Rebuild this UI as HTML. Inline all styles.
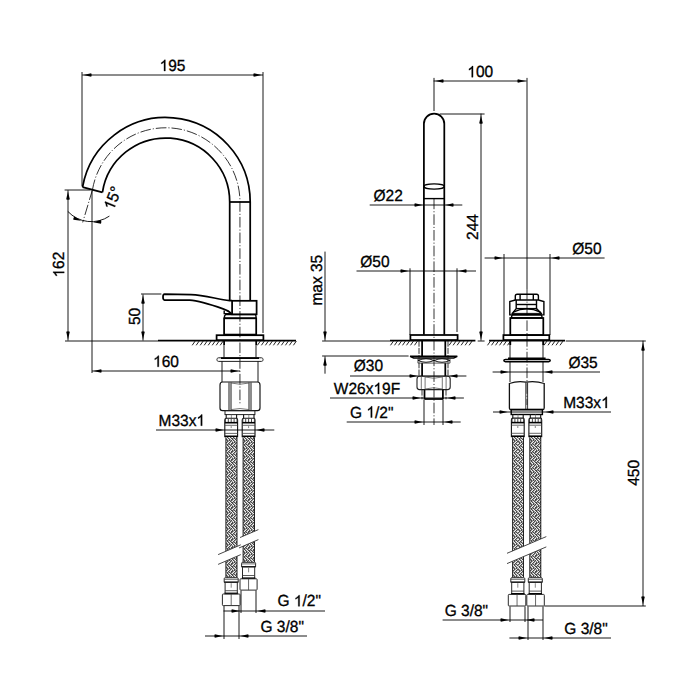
<!DOCTYPE html>
<html><head><meta charset="utf-8"><style>
html,body{margin:0;padding:0;background:#fff;width:700px;height:700px;overflow:hidden}
svg{display:block}
text{font-family:"Liberation Sans",sans-serif;fill:#000;stroke:#000;stroke-width:0.3px;text-rendering:geometricPrecision;font-kerning:none}
</style></head><body>
<svg width="700" height="700" viewBox="0 0 700 700">
<defs>

</defs>
<rect width="700" height="700" fill="#fff"/>
<line x1="82.00" y1="72.00" x2="82.00" y2="186.00" stroke="#000" stroke-width="0.9" fill="none"/>
<line x1="263.00" y1="72.00" x2="263.00" y2="333.00" stroke="#000" stroke-width="0.9" fill="none"/>
<line x1="82.20" y1="75.00" x2="263.00" y2="75.00" stroke="#000" stroke-width="0.9" fill="none"/>
<path d="M83.40,75.00 L91.20,73.20 Q92.20,75.00 91.20,76.80 Z" fill="#000"/>
<path d="M261.60,75.00 L253.80,76.80 Q252.80,75.00 253.80,73.20 Z" fill="#000"/>
<g transform="translate(172.50,71.00) scale(1,1.04)"><text x="-12.93" y="0" font-size="15.5"> 95</text><path transform="translate(-12.93,0) scale(0.00757,-0.00728)" d="M763,0 L583,0 L583,1147 C540,1106 483,1065 413,1024 C343,983 280,952 224,931 L224,1105 C325,1152 413,1209 488,1276 C563,1343 616,1409 647,1472 L763,1472 Z" fill="#000" stroke="#000" stroke-width="39.6"/></g>
<path d="M82.54,187.04 A84.5,84.5 0 0 1 250.20,202.00 L250.20,300.6" stroke="#000" stroke-width="1.75" fill="none"/>
<path d="M102.44,192.32 A64.0,64.0 0 0 1 229.70,202.00 L229.70,300.6" stroke="#000" stroke-width="1.75" fill="none"/>
<path d="M82.54,187.04 L102.44,192.32" stroke="#000" stroke-width="1.75" fill="none"/>
<line x1="229.70" y1="202.00" x2="250.20" y2="202.00" stroke="#000" stroke-width="1.75" fill="none"/>
<path d="M92.47,189.75 A74.25,74.25 0 0 1 239.95,202.00 L239.95,405" stroke="#000" stroke-width="0.8" fill="none" stroke-dasharray="10.6 2 1.1 2"/>
<path d="M92.47,189.75 L82.7,222.4" stroke="#000" stroke-width="0.8" fill="none" stroke-dasharray="10.6 2 1.1 2"/>
<line x1="64.60" y1="190.00" x2="90.50" y2="190.00" stroke="#000" stroke-width="0.9" fill="none"/>
<line x1="92.00" y1="190.50" x2="92.00" y2="373.00" stroke="#000" stroke-width="0.9" fill="none"/>
<path d="M67.8,211.4 A32.1,32.1 0 0 0 109.4,216.1" stroke="#000" stroke-width="0.9" fill="none"/>
<path d="M81.28,220.74 L73.32,219.86 Q72.97,217.83 74.51,216.46 Z" fill="#000"/>
<path d="M93.10,222.23 L100.80,220.04 Q101.89,221.79 100.98,223.64 Z" fill="#000"/>
<g transform="translate(113.30,211.00) rotate(-68) scale(1,1.04)"><text x="0.00" y="0" font-size="15.5"> 5°</text><path transform="translate(0.00,0) scale(0.00757,-0.00728)" d="M763,0 L583,0 L583,1147 C540,1106 483,1065 413,1024 C343,983 280,952 224,931 L224,1105 C325,1152 413,1209 488,1276 C563,1343 616,1409 647,1472 L763,1472 Z" fill="#000" stroke="#000" stroke-width="39.6"/></g>
<line x1="68.00" y1="190.20" x2="68.00" y2="340.60" stroke="#000" stroke-width="0.9" fill="none"/>
<path d="M68.00,191.40 L69.80,199.20 Q68.00,200.20 66.20,199.20 Z" fill="#000"/>
<path d="M68.00,339.60 L66.20,331.80 Q68.00,330.80 69.80,331.80 Z" fill="#000"/>
<g transform="translate(64.20,277.50) rotate(-90) scale(1,1.04)"><text x="0.00" y="0" font-size="15.5"> 62</text><path transform="translate(0.00,0) scale(0.00757,-0.00728)" d="M763,0 L583,0 L583,1147 C540,1106 483,1065 413,1024 C343,983 280,952 224,931 L224,1105 C325,1152 413,1209 488,1276 C563,1343 616,1409 647,1472 L763,1472 Z" fill="#000" stroke="#000" stroke-width="39.6"/></g>
<line x1="65.00" y1="341.00" x2="158.00" y2="341.00" stroke="#000" stroke-width="0.9" fill="none"/>
<line x1="158.00" y1="340.60" x2="296.00" y2="340.60" stroke="#000" stroke-width="1.75" fill="none"/>
<line x1="192.20" y1="345.30" x2="195.20" y2="341.00" stroke="#222" stroke-width="1.0"/>
<line x1="196.20" y1="345.30" x2="199.20" y2="341.00" stroke="#222" stroke-width="1.0"/>
<line x1="200.20" y1="345.30" x2="203.20" y2="341.00" stroke="#222" stroke-width="1.0"/>
<line x1="204.20" y1="345.30" x2="207.20" y2="341.00" stroke="#222" stroke-width="1.0"/>
<line x1="208.20" y1="345.30" x2="211.20" y2="341.00" stroke="#222" stroke-width="1.0"/>
<line x1="212.20" y1="345.30" x2="215.20" y2="341.00" stroke="#222" stroke-width="1.0"/>
<line x1="216.20" y1="345.30" x2="219.20" y2="341.00" stroke="#222" stroke-width="1.0"/>
<line x1="220.20" y1="345.30" x2="223.20" y2="341.00" stroke="#222" stroke-width="1.0"/>
<line x1="257.40" y1="345.30" x2="260.40" y2="341.00" stroke="#222" stroke-width="1.0"/>
<line x1="261.40" y1="345.30" x2="264.40" y2="341.00" stroke="#222" stroke-width="1.0"/>
<line x1="265.40" y1="345.30" x2="268.40" y2="341.00" stroke="#222" stroke-width="1.0"/>
<line x1="269.40" y1="345.30" x2="272.40" y2="341.00" stroke="#222" stroke-width="1.0"/>
<line x1="273.40" y1="345.30" x2="276.40" y2="341.00" stroke="#222" stroke-width="1.0"/>
<line x1="277.40" y1="345.30" x2="280.40" y2="341.00" stroke="#222" stroke-width="1.0"/>
<line x1="281.40" y1="345.30" x2="284.40" y2="341.00" stroke="#222" stroke-width="1.0"/>
<line x1="285.40" y1="345.30" x2="288.40" y2="341.00" stroke="#222" stroke-width="1.0"/>
<line x1="289.40" y1="345.30" x2="292.40" y2="341.00" stroke="#222" stroke-width="1.0"/>
<line x1="293.40" y1="345.30" x2="296.40" y2="341.00" stroke="#222" stroke-width="1.0"/>
<line x1="141.00" y1="294.00" x2="161.40" y2="294.00" stroke="#000" stroke-width="0.9" fill="none"/>
<line x1="143.00" y1="294.40" x2="143.00" y2="340.60" stroke="#000" stroke-width="0.9" fill="none"/>
<path d="M143.00,295.40 L144.80,303.20 Q143.00,304.20 141.20,303.20 Z" fill="#000"/>
<path d="M143.00,339.60 L141.20,331.80 Q143.00,330.80 144.80,331.80 Z" fill="#000"/>
<g transform="translate(140.30,325.00) rotate(-90) scale(1,1.04)"><text x="0.00" y="0" font-size="15.5">50</text></g>
<line x1="92.00" y1="371.00" x2="240.00" y2="371.00" stroke="#000" stroke-width="0.9" fill="none"/>
<path d="M93.40,371.00 L101.20,369.20 Q102.20,371.00 101.20,372.80 Z" fill="#000"/>
<path d="M238.60,371.00 L230.80,372.80 Q229.80,371.00 230.80,369.20 Z" fill="#000"/>
<g transform="translate(166.00,366.80) scale(1,1.04)"><text x="-12.93" y="0" font-size="15.5"> 60</text><path transform="translate(-12.93,0) scale(0.00757,-0.00728)" d="M763,0 L583,0 L583,1147 C540,1106 483,1065 413,1024 C343,983 280,952 224,931 L224,1105 C325,1152 413,1209 488,1276 C563,1343 616,1409 647,1472 L763,1472 Z" fill="#000" stroke="#000" stroke-width="39.6"/></g>
<path d="M164.5,294.2 L191,294.6 C205,295 218,299.5 229.5,300.6 L232,300.6 M164.5,300 L189.7,300.2 C200,300.8 212,305 223.1,308.9 C227,310.3 229.5,311.5 231.2,313.6 M164.5,294.2 C162.5,294.2 162.5,300 164.5,300" stroke="#000" stroke-width="1.75" fill="none"/>
<path d="M224.2,310.5 L224.2,313.6 L232,313.6" stroke="#000" stroke-width="1.4" fill="none"/>
<rect x="232.10" y="300.80" width="24.50" height="13.50" rx="0" stroke="#000" stroke-width="1.75" fill="none"/>
<path d="M225.5,314.6 L255.5,314.6 L256,316 L256,318.3 L224.5,318.3 L224.5,316 Z" stroke="#000" stroke-width="1.4" fill="none"/>
<rect x="224.10" y="318.30" width="32.10" height="16.30" rx="0" stroke="#000" stroke-width="1.75" fill="none"/>
<rect x="216.60" y="335.20" width="46.80" height="5.00" rx="0" stroke="#000" stroke-width="1.75" fill="none"/>
<line x1="224.10" y1="340.60" x2="224.10" y2="345.00" stroke="#000" stroke-width="1.75" fill="none"/>
<line x1="256.20" y1="340.60" x2="256.20" y2="345.00" stroke="#000" stroke-width="1.75" fill="none"/>
<line x1="224.00" y1="345.00" x2="224.00" y2="357.50" stroke="#000" stroke-width="0.9" fill="none"/>
<line x1="256.00" y1="345.00" x2="256.00" y2="357.50" stroke="#000" stroke-width="0.9" fill="none"/>
<path d="M218.5,357.8 L261.5,357.8 C263.6,357.8 263.6,361.4 261.5,361.4 L218.5,361.4 C216.4,361.4 216.4,357.8 218.5,357.8 Z" stroke="#222" stroke-width="1.0" fill="none"/>
<line x1="221.00" y1="358.20" x2="259.00" y2="358.20" stroke="#000" stroke-width="1.8"/>
<line x1="222.00" y1="361.40" x2="222.00" y2="382.00" stroke="#000" stroke-width="0.9" fill="none"/>
<line x1="258.00" y1="361.40" x2="258.00" y2="382.00" stroke="#000" stroke-width="0.9" fill="none"/>
<path d="M222.5,382 L257.5,382 Q260,382 260,385 L260,408 Q260,410.6 257.5,410.6 L222.5,410.6 Q220,410.6 220,408 L220,385 Q220,382 222.5,382 Z" stroke="#111" stroke-width="1.15" fill="none"/>
<line x1="229.00" y1="382.50" x2="229.00" y2="410.00" stroke="#000" stroke-width="0.9" fill="none"/>
<line x1="231.00" y1="382.50" x2="231.00" y2="410.00" stroke="#000" stroke-width="0.9" fill="none"/>
<line x1="249.00" y1="382.50" x2="249.00" y2="410.00" stroke="#000" stroke-width="0.9" fill="none"/>
<line x1="251.00" y1="382.50" x2="251.00" y2="410.00" stroke="#000" stroke-width="0.9" fill="none"/>
<path d="M231,383 Q240,385.5 249.1,383 M231,409.6 Q240,407.5 249.1,409.6" stroke="#555" stroke-width="0.8" fill="none"/>
<rect x="225.00" y="410.60" width="29.90" height="4.00" rx="0" stroke="#222" stroke-width="1.0" fill="none"/>
<line x1="226.20" y1="414.40" x2="226.20" y2="418.20" stroke="#111" stroke-width="1.1" fill="none"/>
<line x1="236.60" y1="414.40" x2="236.60" y2="418.20" stroke="#111" stroke-width="1.1" fill="none"/>
<line x1="231.40" y1="414.60" x2="231.40" y2="418.20" stroke="#666" stroke-width="0.7"/>
<path d="M226.20,418.20 L236.60,418.20 Q237.60,418.60 237.60,420.10 L237.60,437.30 M226.20,418.20 Q224.80,418.60 224.80,420.10 L224.80,437.30" stroke="#111" stroke-width="1.1" fill="none"/>
<line x1="225.40" y1="418.80" x2="225.40" y2="422.20" stroke="#333" stroke-width="0.9"/>
<line x1="228.30" y1="418.80" x2="228.30" y2="422.20" stroke="#333" stroke-width="0.9"/>
<line x1="231.20" y1="418.80" x2="231.20" y2="422.20" stroke="#333" stroke-width="0.9"/>
<line x1="234.10" y1="418.80" x2="234.10" y2="422.20" stroke="#333" stroke-width="0.9"/>
<line x1="237.00" y1="418.80" x2="237.00" y2="422.20" stroke="#333" stroke-width="0.9"/>
<line x1="224.80" y1="422.70" x2="237.60" y2="422.70" stroke="#000" stroke-width="1.6"/>
<line x1="224.80" y1="425.30" x2="237.60" y2="425.30" stroke="#444" stroke-width="0.8"/>
<line x1="224.80" y1="433.40" x2="237.60" y2="433.40" stroke="#444" stroke-width="0.8"/>
<line x1="224.80" y1="436.30" x2="237.60" y2="436.30" stroke="#000" stroke-width="1.6"/>
<line x1="231.20" y1="426.10" x2="231.20" y2="428.10" stroke="#555" stroke-width="0.7"/>
<line x1="243.60" y1="414.40" x2="243.60" y2="418.20" stroke="#111" stroke-width="1.1" fill="none"/>
<line x1="254.00" y1="414.40" x2="254.00" y2="418.20" stroke="#111" stroke-width="1.1" fill="none"/>
<line x1="248.80" y1="414.60" x2="248.80" y2="418.20" stroke="#666" stroke-width="0.7"/>
<path d="M243.60,418.20 L254.00,418.20 Q255.00,418.60 255.00,420.10 L255.00,437.30 M243.60,418.20 Q242.20,418.60 242.20,420.10 L242.20,437.30" stroke="#111" stroke-width="1.1" fill="none"/>
<line x1="242.80" y1="418.80" x2="242.80" y2="422.20" stroke="#333" stroke-width="0.9"/>
<line x1="245.70" y1="418.80" x2="245.70" y2="422.20" stroke="#333" stroke-width="0.9"/>
<line x1="248.60" y1="418.80" x2="248.60" y2="422.20" stroke="#333" stroke-width="0.9"/>
<line x1="251.50" y1="418.80" x2="251.50" y2="422.20" stroke="#333" stroke-width="0.9"/>
<line x1="254.40" y1="418.80" x2="254.40" y2="422.20" stroke="#333" stroke-width="0.9"/>
<line x1="242.20" y1="422.70" x2="255.00" y2="422.70" stroke="#000" stroke-width="1.6"/>
<line x1="242.20" y1="425.30" x2="255.00" y2="425.30" stroke="#444" stroke-width="0.8"/>
<line x1="242.20" y1="433.40" x2="255.00" y2="433.40" stroke="#444" stroke-width="0.8"/>
<line x1="242.20" y1="436.30" x2="255.00" y2="436.30" stroke="#000" stroke-width="1.6"/>
<line x1="248.60" y1="426.10" x2="248.60" y2="428.10" stroke="#555" stroke-width="0.7"/>
<rect x="225.90" y="437.30" width="11.10" height="140.40" fill="#a0a0a0"/>
<path d="M226,437h1v1h-1zM229,437h1v1h-1zM232,437h1v1h-1zM235,437h1v1h-1zM227,438h1v1h-1zM230,438h1v1h-1zM228,439h1v1h-1zM231,439h1v1h-1zM234,439h1v1h-1zM232,440h1v1h-1zM235,440h1v1h-1zM226,441h1v1h-1zM229,441h1v1h-1zM233,441h1v1h-1zM236,441h1v1h-1zM228,442h1v1h-1zM231,442h1v1h-1zM227,443h1v1h-1zM230,443h1v1h-1zM234,443h1v1h-1zM233,444h1v1h-1zM236,444h1v1h-1zM226,445h1v1h-1zM229,445h1v1h-1zM232,445h1v1h-1zM235,445h1v1h-1zM227,446h1v1h-1zM230,446h1v1h-1zM228,447h1v1h-1zM231,447h1v1h-1zM234,447h1v1h-1zM232,448h1v1h-1zM235,448h1v1h-1zM226,449h1v1h-1zM229,449h1v1h-1zM233,449h1v1h-1zM236,449h1v1h-1zM228,450h1v1h-1zM231,450h1v1h-1zM227,451h1v1h-1zM230,451h1v1h-1zM234,451h1v1h-1zM233,452h1v1h-1zM236,452h1v1h-1zM226,453h1v1h-1zM229,453h1v1h-1zM232,453h1v1h-1zM235,453h1v1h-1zM227,454h1v1h-1zM230,454h1v1h-1zM228,455h1v1h-1zM231,455h1v1h-1zM234,455h1v1h-1zM232,456h1v1h-1zM235,456h1v1h-1zM226,457h1v1h-1zM229,457h1v1h-1zM233,457h1v1h-1zM236,457h1v1h-1zM228,458h1v1h-1zM231,458h1v1h-1zM227,459h1v1h-1zM230,459h1v1h-1zM234,459h1v1h-1zM233,460h1v1h-1zM236,460h1v1h-1zM226,461h1v1h-1zM229,461h1v1h-1zM232,461h1v1h-1zM235,461h1v1h-1zM227,462h1v1h-1zM230,462h1v1h-1zM228,463h1v1h-1zM231,463h1v1h-1zM234,463h1v1h-1zM232,464h1v1h-1zM235,464h1v1h-1zM226,465h1v1h-1zM229,465h1v1h-1zM233,465h1v1h-1zM236,465h1v1h-1zM228,466h1v1h-1zM231,466h1v1h-1zM227,467h1v1h-1zM230,467h1v1h-1zM234,467h1v1h-1zM233,468h1v1h-1zM236,468h1v1h-1zM226,469h1v1h-1zM229,469h1v1h-1zM232,469h1v1h-1zM235,469h1v1h-1zM227,470h1v1h-1zM230,470h1v1h-1zM228,471h1v1h-1zM231,471h1v1h-1zM234,471h1v1h-1zM232,472h1v1h-1zM235,472h1v1h-1zM226,473h1v1h-1zM229,473h1v1h-1zM233,473h1v1h-1zM236,473h1v1h-1zM228,474h1v1h-1zM231,474h1v1h-1zM227,475h1v1h-1zM230,475h1v1h-1zM234,475h1v1h-1zM233,476h1v1h-1zM236,476h1v1h-1zM226,477h1v1h-1zM229,477h1v1h-1zM232,477h1v1h-1zM235,477h1v1h-1zM227,478h1v1h-1zM230,478h1v1h-1zM228,479h1v1h-1zM231,479h1v1h-1zM234,479h1v1h-1zM232,480h1v1h-1zM235,480h1v1h-1zM226,481h1v1h-1zM229,481h1v1h-1zM233,481h1v1h-1zM236,481h1v1h-1zM228,482h1v1h-1zM231,482h1v1h-1zM227,483h1v1h-1zM230,483h1v1h-1zM234,483h1v1h-1zM233,484h1v1h-1zM236,484h1v1h-1zM226,485h1v1h-1zM229,485h1v1h-1zM232,485h1v1h-1zM235,485h1v1h-1zM227,486h1v1h-1zM230,486h1v1h-1zM228,487h1v1h-1zM231,487h1v1h-1zM234,487h1v1h-1zM232,488h1v1h-1zM235,488h1v1h-1zM226,489h1v1h-1zM229,489h1v1h-1zM233,489h1v1h-1zM236,489h1v1h-1zM228,490h1v1h-1zM231,490h1v1h-1zM227,491h1v1h-1zM230,491h1v1h-1zM234,491h1v1h-1zM233,492h1v1h-1zM236,492h1v1h-1zM226,493h1v1h-1zM229,493h1v1h-1zM232,493h1v1h-1zM235,493h1v1h-1zM227,494h1v1h-1zM230,494h1v1h-1zM228,495h1v1h-1zM231,495h1v1h-1zM234,495h1v1h-1zM232,496h1v1h-1zM235,496h1v1h-1zM226,497h1v1h-1zM229,497h1v1h-1zM233,497h1v1h-1zM236,497h1v1h-1zM228,498h1v1h-1zM231,498h1v1h-1zM227,499h1v1h-1zM230,499h1v1h-1zM234,499h1v1h-1zM233,500h1v1h-1zM236,500h1v1h-1zM226,501h1v1h-1zM229,501h1v1h-1zM232,501h1v1h-1zM235,501h1v1h-1zM227,502h1v1h-1zM230,502h1v1h-1zM228,503h1v1h-1zM231,503h1v1h-1zM234,503h1v1h-1zM232,504h1v1h-1zM235,504h1v1h-1zM226,505h1v1h-1zM229,505h1v1h-1zM233,505h1v1h-1zM236,505h1v1h-1zM228,506h1v1h-1zM231,506h1v1h-1zM227,507h1v1h-1zM230,507h1v1h-1zM234,507h1v1h-1zM233,508h1v1h-1zM236,508h1v1h-1zM226,509h1v1h-1zM229,509h1v1h-1zM232,509h1v1h-1zM235,509h1v1h-1zM227,510h1v1h-1zM230,510h1v1h-1zM228,511h1v1h-1zM231,511h1v1h-1zM234,511h1v1h-1zM232,512h1v1h-1zM235,512h1v1h-1zM226,513h1v1h-1zM229,513h1v1h-1zM233,513h1v1h-1zM236,513h1v1h-1zM228,514h1v1h-1zM231,514h1v1h-1zM227,515h1v1h-1zM230,515h1v1h-1zM234,515h1v1h-1zM233,516h1v1h-1zM236,516h1v1h-1zM226,517h1v1h-1zM229,517h1v1h-1zM232,517h1v1h-1zM235,517h1v1h-1zM227,518h1v1h-1zM230,518h1v1h-1zM228,519h1v1h-1zM231,519h1v1h-1zM234,519h1v1h-1zM232,520h1v1h-1zM235,520h1v1h-1zM226,521h1v1h-1zM229,521h1v1h-1zM233,521h1v1h-1zM236,521h1v1h-1zM228,522h1v1h-1zM231,522h1v1h-1zM227,523h1v1h-1zM230,523h1v1h-1zM234,523h1v1h-1zM233,524h1v1h-1zM236,524h1v1h-1zM226,525h1v1h-1zM229,525h1v1h-1zM232,525h1v1h-1zM235,525h1v1h-1zM227,526h1v1h-1zM230,526h1v1h-1zM228,527h1v1h-1zM231,527h1v1h-1zM234,527h1v1h-1zM232,528h1v1h-1zM235,528h1v1h-1zM226,529h1v1h-1zM229,529h1v1h-1zM233,529h1v1h-1zM236,529h1v1h-1zM228,530h1v1h-1zM231,530h1v1h-1zM227,531h1v1h-1zM230,531h1v1h-1zM234,531h1v1h-1zM233,532h1v1h-1zM236,532h1v1h-1zM226,533h1v1h-1zM229,533h1v1h-1zM232,533h1v1h-1zM235,533h1v1h-1zM227,534h1v1h-1zM230,534h1v1h-1zM228,535h1v1h-1zM231,535h1v1h-1zM234,535h1v1h-1zM232,536h1v1h-1zM235,536h1v1h-1zM226,537h1v1h-1zM229,537h1v1h-1zM233,537h1v1h-1zM236,537h1v1h-1zM228,538h1v1h-1zM231,538h1v1h-1zM227,539h1v1h-1zM230,539h1v1h-1zM234,539h1v1h-1zM233,540h1v1h-1zM236,540h1v1h-1zM226,541h1v1h-1zM229,541h1v1h-1zM232,541h1v1h-1zM235,541h1v1h-1zM227,542h1v1h-1zM230,542h1v1h-1zM228,543h1v1h-1zM231,543h1v1h-1zM234,543h1v1h-1zM232,544h1v1h-1zM235,544h1v1h-1zM226,545h1v1h-1zM229,545h1v1h-1zM233,545h1v1h-1zM236,545h1v1h-1zM228,546h1v1h-1zM231,546h1v1h-1zM227,547h1v1h-1zM230,547h1v1h-1zM234,547h1v1h-1zM233,548h1v1h-1zM236,548h1v1h-1zM226,549h1v1h-1zM229,549h1v1h-1zM232,549h1v1h-1zM235,549h1v1h-1zM227,550h1v1h-1zM230,550h1v1h-1zM228,551h1v1h-1zM231,551h1v1h-1zM234,551h1v1h-1zM232,552h1v1h-1zM235,552h1v1h-1zM226,553h1v1h-1zM229,553h1v1h-1zM233,553h1v1h-1zM236,553h1v1h-1zM228,554h1v1h-1zM231,554h1v1h-1zM227,555h1v1h-1zM230,555h1v1h-1zM234,555h1v1h-1zM233,556h1v1h-1zM236,556h1v1h-1zM226,557h1v1h-1zM229,557h1v1h-1zM232,557h1v1h-1zM235,557h1v1h-1zM227,558h1v1h-1zM230,558h1v1h-1zM228,559h1v1h-1zM231,559h1v1h-1zM234,559h1v1h-1zM232,560h1v1h-1zM235,560h1v1h-1zM226,561h1v1h-1zM229,561h1v1h-1zM233,561h1v1h-1zM236,561h1v1h-1zM228,562h1v1h-1zM231,562h1v1h-1zM227,563h1v1h-1zM230,563h1v1h-1zM234,563h1v1h-1zM233,564h1v1h-1zM236,564h1v1h-1zM226,565h1v1h-1zM229,565h1v1h-1zM232,565h1v1h-1zM235,565h1v1h-1zM227,566h1v1h-1zM230,566h1v1h-1zM228,567h1v1h-1zM231,567h1v1h-1zM234,567h1v1h-1zM232,568h1v1h-1zM235,568h1v1h-1zM226,569h1v1h-1zM229,569h1v1h-1zM233,569h1v1h-1zM236,569h1v1h-1zM228,570h1v1h-1zM231,570h1v1h-1zM227,571h1v1h-1zM230,571h1v1h-1zM234,571h1v1h-1zM233,572h1v1h-1zM236,572h1v1h-1zM226,573h1v1h-1zM229,573h1v1h-1zM232,573h1v1h-1zM235,573h1v1h-1zM227,574h1v1h-1zM230,574h1v1h-1zM228,575h1v1h-1zM231,575h1v1h-1zM234,575h1v1h-1zM232,576h1v1h-1zM235,576h1v1h-1zM226,577h1v1h-1zM229,577h1v1h-1zM233,577h1v1h-1zM236,577h1v1h-1z" fill="#f0f0f0" shape-rendering="crispEdges"/>
<path d="M227,437h1v1h-1zM230,437h1v1h-1zM233,437h1v1h-1zM236,437h1v1h-1zM228,438h1v1h-1zM231,438h2v1h-2zM234,438h1v1h-1zM236,438h1v1h-1zM226,439h1v1h-1zM229,439h1v1h-1zM232,439h1v1h-1zM235,439h1v1h-1zM227,440h1v1h-1zM229,440h1v1h-1zM231,440h1v1h-1zM233,440h1v1h-1zM236,440h1v1h-1zM227,441h1v1h-1zM230,441h1v1h-1zM234,441h1v1h-1zM226,442h1v1h-1zM229,442h1v1h-1zM232,442h1v1h-1zM234,442h1v1h-1zM236,442h1v1h-1zM228,443h1v1h-1zM231,443h2v1h-2zM235,443h1v1h-1zM227,444h1v1h-1zM229,444h1v1h-1zM231,444h1v1h-1zM234,444h1v1h-1zM227,445h1v1h-1zM230,445h1v1h-1zM233,445h1v1h-1zM236,445h1v1h-1zM228,446h1v1h-1zM231,446h2v1h-2zM234,446h1v1h-1zM236,446h1v1h-1zM226,447h1v1h-1zM229,447h1v1h-1zM232,447h1v1h-1zM235,447h1v1h-1zM227,448h1v1h-1zM229,448h1v1h-1zM231,448h1v1h-1zM233,448h1v1h-1zM236,448h1v1h-1zM227,449h1v1h-1zM230,449h1v1h-1zM234,449h1v1h-1zM226,450h1v1h-1zM229,450h1v1h-1zM232,450h1v1h-1zM234,450h1v1h-1zM236,450h1v1h-1zM228,451h1v1h-1zM231,451h2v1h-2zM235,451h1v1h-1zM227,452h1v1h-1zM229,452h1v1h-1zM231,452h1v1h-1zM234,452h1v1h-1zM227,453h1v1h-1zM230,453h1v1h-1zM233,453h1v1h-1zM236,453h1v1h-1zM228,454h1v1h-1zM231,454h2v1h-2zM234,454h1v1h-1zM236,454h1v1h-1zM226,455h1v1h-1zM229,455h1v1h-1zM232,455h1v1h-1zM235,455h1v1h-1zM227,456h1v1h-1zM229,456h1v1h-1zM231,456h1v1h-1zM233,456h1v1h-1zM236,456h1v1h-1zM227,457h1v1h-1zM230,457h1v1h-1zM234,457h1v1h-1zM226,458h1v1h-1zM229,458h1v1h-1zM232,458h1v1h-1zM234,458h1v1h-1zM236,458h1v1h-1zM228,459h1v1h-1zM231,459h2v1h-2zM235,459h1v1h-1zM227,460h1v1h-1zM229,460h1v1h-1zM231,460h1v1h-1zM234,460h1v1h-1zM227,461h1v1h-1zM230,461h1v1h-1zM233,461h1v1h-1zM236,461h1v1h-1zM228,462h1v1h-1zM231,462h2v1h-2zM234,462h1v1h-1zM236,462h1v1h-1zM226,463h1v1h-1zM229,463h1v1h-1zM232,463h1v1h-1zM235,463h1v1h-1zM227,464h1v1h-1zM229,464h1v1h-1zM231,464h1v1h-1zM233,464h1v1h-1zM236,464h1v1h-1zM227,465h1v1h-1zM230,465h1v1h-1zM234,465h1v1h-1zM226,466h1v1h-1zM229,466h1v1h-1zM232,466h1v1h-1zM234,466h1v1h-1zM236,466h1v1h-1zM228,467h1v1h-1zM231,467h2v1h-2zM235,467h1v1h-1zM227,468h1v1h-1zM229,468h1v1h-1zM231,468h1v1h-1zM234,468h1v1h-1zM227,469h1v1h-1zM230,469h1v1h-1zM233,469h1v1h-1zM236,469h1v1h-1zM228,470h1v1h-1zM231,470h2v1h-2zM234,470h1v1h-1zM236,470h1v1h-1zM226,471h1v1h-1zM229,471h1v1h-1zM232,471h1v1h-1zM235,471h1v1h-1zM227,472h1v1h-1zM229,472h1v1h-1zM231,472h1v1h-1zM233,472h1v1h-1zM236,472h1v1h-1zM227,473h1v1h-1zM230,473h1v1h-1zM234,473h1v1h-1zM226,474h1v1h-1zM229,474h1v1h-1zM232,474h1v1h-1zM234,474h1v1h-1zM236,474h1v1h-1zM228,475h1v1h-1zM231,475h2v1h-2zM235,475h1v1h-1zM227,476h1v1h-1zM229,476h1v1h-1zM231,476h1v1h-1zM234,476h1v1h-1zM227,477h1v1h-1zM230,477h1v1h-1zM233,477h1v1h-1zM236,477h1v1h-1zM228,478h1v1h-1zM231,478h2v1h-2zM234,478h1v1h-1zM236,478h1v1h-1zM226,479h1v1h-1zM229,479h1v1h-1zM232,479h1v1h-1zM235,479h1v1h-1zM227,480h1v1h-1zM229,480h1v1h-1zM231,480h1v1h-1zM233,480h1v1h-1zM236,480h1v1h-1zM227,481h1v1h-1zM230,481h1v1h-1zM234,481h1v1h-1zM226,482h1v1h-1zM229,482h1v1h-1zM232,482h1v1h-1zM234,482h1v1h-1zM236,482h1v1h-1zM228,483h1v1h-1zM231,483h2v1h-2zM235,483h1v1h-1zM227,484h1v1h-1zM229,484h1v1h-1zM231,484h1v1h-1zM234,484h1v1h-1zM227,485h1v1h-1zM230,485h1v1h-1zM233,485h1v1h-1zM236,485h1v1h-1zM228,486h1v1h-1zM231,486h2v1h-2zM234,486h1v1h-1zM236,486h1v1h-1zM226,487h1v1h-1zM229,487h1v1h-1zM232,487h1v1h-1zM235,487h1v1h-1zM227,488h1v1h-1zM229,488h1v1h-1zM231,488h1v1h-1zM233,488h1v1h-1zM236,488h1v1h-1zM227,489h1v1h-1zM230,489h1v1h-1zM234,489h1v1h-1zM226,490h1v1h-1zM229,490h1v1h-1zM232,490h1v1h-1zM234,490h1v1h-1zM236,490h1v1h-1zM228,491h1v1h-1zM231,491h2v1h-2zM235,491h1v1h-1zM227,492h1v1h-1zM229,492h1v1h-1zM231,492h1v1h-1zM234,492h1v1h-1zM227,493h1v1h-1zM230,493h1v1h-1zM233,493h1v1h-1zM236,493h1v1h-1zM228,494h1v1h-1zM231,494h2v1h-2zM234,494h1v1h-1zM236,494h1v1h-1zM226,495h1v1h-1zM229,495h1v1h-1zM232,495h1v1h-1zM235,495h1v1h-1zM227,496h1v1h-1zM229,496h1v1h-1zM231,496h1v1h-1zM233,496h1v1h-1zM236,496h1v1h-1zM227,497h1v1h-1zM230,497h1v1h-1zM234,497h1v1h-1zM226,498h1v1h-1zM229,498h1v1h-1zM232,498h1v1h-1zM234,498h1v1h-1zM236,498h1v1h-1zM228,499h1v1h-1zM231,499h2v1h-2zM235,499h1v1h-1zM227,500h1v1h-1zM229,500h1v1h-1zM231,500h1v1h-1zM234,500h1v1h-1zM227,501h1v1h-1zM230,501h1v1h-1zM233,501h1v1h-1zM236,501h1v1h-1zM228,502h1v1h-1zM231,502h2v1h-2zM234,502h1v1h-1zM236,502h1v1h-1zM226,503h1v1h-1zM229,503h1v1h-1zM232,503h1v1h-1zM235,503h1v1h-1zM227,504h1v1h-1zM229,504h1v1h-1zM231,504h1v1h-1zM233,504h1v1h-1zM236,504h1v1h-1zM227,505h1v1h-1zM230,505h1v1h-1zM234,505h1v1h-1zM226,506h1v1h-1zM229,506h1v1h-1zM232,506h1v1h-1zM234,506h1v1h-1zM236,506h1v1h-1zM228,507h1v1h-1zM231,507h2v1h-2zM235,507h1v1h-1zM227,508h1v1h-1zM229,508h1v1h-1zM231,508h1v1h-1zM234,508h1v1h-1zM227,509h1v1h-1zM230,509h1v1h-1zM233,509h1v1h-1zM236,509h1v1h-1zM228,510h1v1h-1zM231,510h2v1h-2zM234,510h1v1h-1zM236,510h1v1h-1zM226,511h1v1h-1zM229,511h1v1h-1zM232,511h1v1h-1zM235,511h1v1h-1zM227,512h1v1h-1zM229,512h1v1h-1zM231,512h1v1h-1zM233,512h1v1h-1zM236,512h1v1h-1zM227,513h1v1h-1zM230,513h1v1h-1zM234,513h1v1h-1zM226,514h1v1h-1zM229,514h1v1h-1zM232,514h1v1h-1zM234,514h1v1h-1zM236,514h1v1h-1zM228,515h1v1h-1zM231,515h2v1h-2zM235,515h1v1h-1zM227,516h1v1h-1zM229,516h1v1h-1zM231,516h1v1h-1zM234,516h1v1h-1zM227,517h1v1h-1zM230,517h1v1h-1zM233,517h1v1h-1zM236,517h1v1h-1zM228,518h1v1h-1zM231,518h2v1h-2zM234,518h1v1h-1zM236,518h1v1h-1zM226,519h1v1h-1zM229,519h1v1h-1zM232,519h1v1h-1zM235,519h1v1h-1zM227,520h1v1h-1zM229,520h1v1h-1zM231,520h1v1h-1zM233,520h1v1h-1zM236,520h1v1h-1zM227,521h1v1h-1zM230,521h1v1h-1zM234,521h1v1h-1zM226,522h1v1h-1zM229,522h1v1h-1zM232,522h1v1h-1zM234,522h1v1h-1zM236,522h1v1h-1zM228,523h1v1h-1zM231,523h2v1h-2zM235,523h1v1h-1zM227,524h1v1h-1zM229,524h1v1h-1zM231,524h1v1h-1zM234,524h1v1h-1zM227,525h1v1h-1zM230,525h1v1h-1zM233,525h1v1h-1zM236,525h1v1h-1zM228,526h1v1h-1zM231,526h2v1h-2zM234,526h1v1h-1zM236,526h1v1h-1zM226,527h1v1h-1zM229,527h1v1h-1zM232,527h1v1h-1zM235,527h1v1h-1zM227,528h1v1h-1zM229,528h1v1h-1zM231,528h1v1h-1zM233,528h1v1h-1zM236,528h1v1h-1zM227,529h1v1h-1zM230,529h1v1h-1zM234,529h1v1h-1zM226,530h1v1h-1zM229,530h1v1h-1zM232,530h1v1h-1zM234,530h1v1h-1zM236,530h1v1h-1zM228,531h1v1h-1zM231,531h2v1h-2zM235,531h1v1h-1zM227,532h1v1h-1zM229,532h1v1h-1zM231,532h1v1h-1zM234,532h1v1h-1zM227,533h1v1h-1zM230,533h1v1h-1zM233,533h1v1h-1zM236,533h1v1h-1zM228,534h1v1h-1zM231,534h2v1h-2zM234,534h1v1h-1zM236,534h1v1h-1zM226,535h1v1h-1zM229,535h1v1h-1zM232,535h1v1h-1zM235,535h1v1h-1zM227,536h1v1h-1zM229,536h1v1h-1zM231,536h1v1h-1zM233,536h1v1h-1zM236,536h1v1h-1zM227,537h1v1h-1zM230,537h1v1h-1zM234,537h1v1h-1zM226,538h1v1h-1zM229,538h1v1h-1zM232,538h1v1h-1zM234,538h1v1h-1zM236,538h1v1h-1zM228,539h1v1h-1zM231,539h2v1h-2zM235,539h1v1h-1zM227,540h1v1h-1zM229,540h1v1h-1zM231,540h1v1h-1zM234,540h1v1h-1zM227,541h1v1h-1zM230,541h1v1h-1zM233,541h1v1h-1zM236,541h1v1h-1zM228,542h1v1h-1zM231,542h2v1h-2zM234,542h1v1h-1zM236,542h1v1h-1zM226,543h1v1h-1zM229,543h1v1h-1zM232,543h1v1h-1zM235,543h1v1h-1zM227,544h1v1h-1zM229,544h1v1h-1zM231,544h1v1h-1zM233,544h1v1h-1zM236,544h1v1h-1zM227,545h1v1h-1zM230,545h1v1h-1zM234,545h1v1h-1zM226,546h1v1h-1zM229,546h1v1h-1zM232,546h1v1h-1zM234,546h1v1h-1zM236,546h1v1h-1zM228,547h1v1h-1zM231,547h2v1h-2zM235,547h1v1h-1zM227,548h1v1h-1zM229,548h1v1h-1zM231,548h1v1h-1zM234,548h1v1h-1zM227,549h1v1h-1zM230,549h1v1h-1zM233,549h1v1h-1zM236,549h1v1h-1zM228,550h1v1h-1zM231,550h2v1h-2zM234,550h1v1h-1zM236,550h1v1h-1zM226,551h1v1h-1zM229,551h1v1h-1zM232,551h1v1h-1zM235,551h1v1h-1zM227,552h1v1h-1zM229,552h1v1h-1zM231,552h1v1h-1zM233,552h1v1h-1zM236,552h1v1h-1zM227,553h1v1h-1zM230,553h1v1h-1zM234,553h1v1h-1zM226,554h1v1h-1zM229,554h1v1h-1zM232,554h1v1h-1zM234,554h1v1h-1zM236,554h1v1h-1zM228,555h1v1h-1zM231,555h2v1h-2zM235,555h1v1h-1zM227,556h1v1h-1zM229,556h1v1h-1zM231,556h1v1h-1zM234,556h1v1h-1zM227,557h1v1h-1zM230,557h1v1h-1zM233,557h1v1h-1zM236,557h1v1h-1zM228,558h1v1h-1zM231,558h2v1h-2zM234,558h1v1h-1zM236,558h1v1h-1zM226,559h1v1h-1zM229,559h1v1h-1zM232,559h1v1h-1zM235,559h1v1h-1zM227,560h1v1h-1zM229,560h1v1h-1zM231,560h1v1h-1zM233,560h1v1h-1zM236,560h1v1h-1zM227,561h1v1h-1zM230,561h1v1h-1zM234,561h1v1h-1zM226,562h1v1h-1zM229,562h1v1h-1zM232,562h1v1h-1zM234,562h1v1h-1zM236,562h1v1h-1zM228,563h1v1h-1zM231,563h2v1h-2zM235,563h1v1h-1zM227,564h1v1h-1zM229,564h1v1h-1zM231,564h1v1h-1zM234,564h1v1h-1zM227,565h1v1h-1zM230,565h1v1h-1zM233,565h1v1h-1zM236,565h1v1h-1zM228,566h1v1h-1zM231,566h2v1h-2zM234,566h1v1h-1zM236,566h1v1h-1zM226,567h1v1h-1zM229,567h1v1h-1zM232,567h1v1h-1zM235,567h1v1h-1zM227,568h1v1h-1zM229,568h1v1h-1zM231,568h1v1h-1zM233,568h1v1h-1zM236,568h1v1h-1zM227,569h1v1h-1zM230,569h1v1h-1zM234,569h1v1h-1zM226,570h1v1h-1zM229,570h1v1h-1zM232,570h1v1h-1zM234,570h1v1h-1zM236,570h1v1h-1zM228,571h1v1h-1zM231,571h2v1h-2zM235,571h1v1h-1zM227,572h1v1h-1zM229,572h1v1h-1zM231,572h1v1h-1zM234,572h1v1h-1zM227,573h1v1h-1zM230,573h1v1h-1zM233,573h1v1h-1zM236,573h1v1h-1zM228,574h1v1h-1zM231,574h2v1h-2zM234,574h1v1h-1zM236,574h1v1h-1zM226,575h1v1h-1zM229,575h1v1h-1zM232,575h1v1h-1zM235,575h1v1h-1zM227,576h1v1h-1zM229,576h1v1h-1zM231,576h1v1h-1zM233,576h1v1h-1zM236,576h1v1h-1zM227,577h1v1h-1zM230,577h1v1h-1zM234,577h1v1h-1z" fill="#4a4a4a" shape-rendering="crispEdges"/>
<line x1="225.90" y1="437.30" x2="225.90" y2="577.70" stroke="#222" stroke-width="1.0"/>
<line x1="237.00" y1="437.30" x2="237.00" y2="577.70" stroke="#222" stroke-width="1.0"/>
<rect x="243.10" y="437.30" width="11.40" height="125.00" fill="#a0a0a0"/>
<path d="M243,437h1v1h-1zM246,437h1v1h-1zM249,437h1v1h-1zM252,437h1v1h-1zM244,438h1v1h-1zM247,438h1v1h-1zM245,439h1v1h-1zM248,439h1v1h-1zM251,439h1v1h-1zM249,440h1v1h-1zM252,440h1v1h-1zM243,441h1v1h-1zM246,441h1v1h-1zM250,441h1v1h-1zM253,441h1v1h-1zM245,442h1v1h-1zM248,442h1v1h-1zM244,443h1v1h-1zM247,443h1v1h-1zM251,443h1v1h-1zM250,444h1v1h-1zM253,444h1v1h-1zM243,445h1v1h-1zM246,445h1v1h-1zM249,445h1v1h-1zM252,445h1v1h-1zM244,446h1v1h-1zM247,446h1v1h-1zM245,447h1v1h-1zM248,447h1v1h-1zM251,447h1v1h-1zM249,448h1v1h-1zM252,448h1v1h-1zM243,449h1v1h-1zM246,449h1v1h-1zM250,449h1v1h-1zM253,449h1v1h-1zM245,450h1v1h-1zM248,450h1v1h-1zM244,451h1v1h-1zM247,451h1v1h-1zM251,451h1v1h-1zM250,452h1v1h-1zM253,452h1v1h-1zM243,453h1v1h-1zM246,453h1v1h-1zM249,453h1v1h-1zM252,453h1v1h-1zM244,454h1v1h-1zM247,454h1v1h-1zM245,455h1v1h-1zM248,455h1v1h-1zM251,455h1v1h-1zM249,456h1v1h-1zM252,456h1v1h-1zM243,457h1v1h-1zM246,457h1v1h-1zM250,457h1v1h-1zM253,457h1v1h-1zM245,458h1v1h-1zM248,458h1v1h-1zM244,459h1v1h-1zM247,459h1v1h-1zM251,459h1v1h-1zM250,460h1v1h-1zM253,460h1v1h-1zM243,461h1v1h-1zM246,461h1v1h-1zM249,461h1v1h-1zM252,461h1v1h-1zM244,462h1v1h-1zM247,462h1v1h-1zM245,463h1v1h-1zM248,463h1v1h-1zM251,463h1v1h-1zM249,464h1v1h-1zM252,464h1v1h-1zM243,465h1v1h-1zM246,465h1v1h-1zM250,465h1v1h-1zM253,465h1v1h-1zM245,466h1v1h-1zM248,466h1v1h-1zM244,467h1v1h-1zM247,467h1v1h-1zM251,467h1v1h-1zM250,468h1v1h-1zM253,468h1v1h-1zM243,469h1v1h-1zM246,469h1v1h-1zM249,469h1v1h-1zM252,469h1v1h-1zM244,470h1v1h-1zM247,470h1v1h-1zM245,471h1v1h-1zM248,471h1v1h-1zM251,471h1v1h-1zM249,472h1v1h-1zM252,472h1v1h-1zM243,473h1v1h-1zM246,473h1v1h-1zM250,473h1v1h-1zM253,473h1v1h-1zM245,474h1v1h-1zM248,474h1v1h-1zM244,475h1v1h-1zM247,475h1v1h-1zM251,475h1v1h-1zM250,476h1v1h-1zM253,476h1v1h-1zM243,477h1v1h-1zM246,477h1v1h-1zM249,477h1v1h-1zM252,477h1v1h-1zM244,478h1v1h-1zM247,478h1v1h-1zM245,479h1v1h-1zM248,479h1v1h-1zM251,479h1v1h-1zM249,480h1v1h-1zM252,480h1v1h-1zM243,481h1v1h-1zM246,481h1v1h-1zM250,481h1v1h-1zM253,481h1v1h-1zM245,482h1v1h-1zM248,482h1v1h-1zM244,483h1v1h-1zM247,483h1v1h-1zM251,483h1v1h-1zM250,484h1v1h-1zM253,484h1v1h-1zM243,485h1v1h-1zM246,485h1v1h-1zM249,485h1v1h-1zM252,485h1v1h-1zM244,486h1v1h-1zM247,486h1v1h-1zM245,487h1v1h-1zM248,487h1v1h-1zM251,487h1v1h-1zM249,488h1v1h-1zM252,488h1v1h-1zM243,489h1v1h-1zM246,489h1v1h-1zM250,489h1v1h-1zM253,489h1v1h-1zM245,490h1v1h-1zM248,490h1v1h-1zM244,491h1v1h-1zM247,491h1v1h-1zM251,491h1v1h-1zM250,492h1v1h-1zM253,492h1v1h-1zM243,493h1v1h-1zM246,493h1v1h-1zM249,493h1v1h-1zM252,493h1v1h-1zM244,494h1v1h-1zM247,494h1v1h-1zM245,495h1v1h-1zM248,495h1v1h-1zM251,495h1v1h-1zM249,496h1v1h-1zM252,496h1v1h-1zM243,497h1v1h-1zM246,497h1v1h-1zM250,497h1v1h-1zM253,497h1v1h-1zM245,498h1v1h-1zM248,498h1v1h-1zM244,499h1v1h-1zM247,499h1v1h-1zM251,499h1v1h-1zM250,500h1v1h-1zM253,500h1v1h-1zM243,501h1v1h-1zM246,501h1v1h-1zM249,501h1v1h-1zM252,501h1v1h-1zM244,502h1v1h-1zM247,502h1v1h-1zM245,503h1v1h-1zM248,503h1v1h-1zM251,503h1v1h-1zM249,504h1v1h-1zM252,504h1v1h-1zM243,505h1v1h-1zM246,505h1v1h-1zM250,505h1v1h-1zM253,505h1v1h-1zM245,506h1v1h-1zM248,506h1v1h-1zM244,507h1v1h-1zM247,507h1v1h-1zM251,507h1v1h-1zM250,508h1v1h-1zM253,508h1v1h-1zM243,509h1v1h-1zM246,509h1v1h-1zM249,509h1v1h-1zM252,509h1v1h-1zM244,510h1v1h-1zM247,510h1v1h-1zM245,511h1v1h-1zM248,511h1v1h-1zM251,511h1v1h-1zM249,512h1v1h-1zM252,512h1v1h-1zM243,513h1v1h-1zM246,513h1v1h-1zM250,513h1v1h-1zM253,513h1v1h-1zM245,514h1v1h-1zM248,514h1v1h-1zM244,515h1v1h-1zM247,515h1v1h-1zM251,515h1v1h-1zM250,516h1v1h-1zM253,516h1v1h-1zM243,517h1v1h-1zM246,517h1v1h-1zM249,517h1v1h-1zM252,517h1v1h-1zM244,518h1v1h-1zM247,518h1v1h-1zM245,519h1v1h-1zM248,519h1v1h-1zM251,519h1v1h-1zM249,520h1v1h-1zM252,520h1v1h-1zM243,521h1v1h-1zM246,521h1v1h-1zM250,521h1v1h-1zM253,521h1v1h-1zM245,522h1v1h-1zM248,522h1v1h-1zM244,523h1v1h-1zM247,523h1v1h-1zM251,523h1v1h-1zM250,524h1v1h-1zM253,524h1v1h-1zM243,525h1v1h-1zM246,525h1v1h-1zM249,525h1v1h-1zM252,525h1v1h-1zM244,526h1v1h-1zM247,526h1v1h-1zM245,527h1v1h-1zM248,527h1v1h-1zM251,527h1v1h-1zM249,528h1v1h-1zM252,528h1v1h-1zM243,529h1v1h-1zM246,529h1v1h-1zM250,529h1v1h-1zM253,529h1v1h-1zM245,530h1v1h-1zM248,530h1v1h-1zM244,531h1v1h-1zM247,531h1v1h-1zM251,531h1v1h-1zM250,532h1v1h-1zM253,532h1v1h-1zM243,533h1v1h-1zM246,533h1v1h-1zM249,533h1v1h-1zM252,533h1v1h-1zM244,534h1v1h-1zM247,534h1v1h-1zM245,535h1v1h-1zM248,535h1v1h-1zM251,535h1v1h-1zM249,536h1v1h-1zM252,536h1v1h-1zM243,537h1v1h-1zM246,537h1v1h-1zM250,537h1v1h-1zM253,537h1v1h-1zM245,538h1v1h-1zM248,538h1v1h-1zM244,539h1v1h-1zM247,539h1v1h-1zM251,539h1v1h-1zM250,540h1v1h-1zM253,540h1v1h-1zM243,541h1v1h-1zM246,541h1v1h-1zM249,541h1v1h-1zM252,541h1v1h-1zM244,542h1v1h-1zM247,542h1v1h-1zM245,543h1v1h-1zM248,543h1v1h-1zM251,543h1v1h-1zM249,544h1v1h-1zM252,544h1v1h-1zM243,545h1v1h-1zM246,545h1v1h-1zM250,545h1v1h-1zM253,545h1v1h-1zM245,546h1v1h-1zM248,546h1v1h-1zM244,547h1v1h-1zM247,547h1v1h-1zM251,547h1v1h-1zM250,548h1v1h-1zM253,548h1v1h-1zM243,549h1v1h-1zM246,549h1v1h-1zM249,549h1v1h-1zM252,549h1v1h-1zM244,550h1v1h-1zM247,550h1v1h-1zM245,551h1v1h-1zM248,551h1v1h-1zM251,551h1v1h-1zM249,552h1v1h-1zM252,552h1v1h-1zM243,553h1v1h-1zM246,553h1v1h-1zM250,553h1v1h-1zM253,553h1v1h-1zM245,554h1v1h-1zM248,554h1v1h-1zM244,555h1v1h-1zM247,555h1v1h-1zM251,555h1v1h-1zM250,556h1v1h-1zM253,556h1v1h-1zM243,557h1v1h-1zM246,557h1v1h-1zM249,557h1v1h-1zM252,557h1v1h-1zM244,558h1v1h-1zM247,558h1v1h-1zM245,559h1v1h-1zM248,559h1v1h-1zM251,559h1v1h-1zM249,560h1v1h-1zM252,560h1v1h-1zM243,561h1v1h-1zM246,561h1v1h-1zM250,561h1v1h-1zM253,561h1v1h-1zM245,562h1v1h-1zM248,562h1v1h-1z" fill="#f0f0f0" shape-rendering="crispEdges"/>
<path d="M244,437h1v1h-1zM247,437h1v1h-1zM250,437h1v1h-1zM253,437h1v1h-1zM245,438h1v1h-1zM248,438h2v1h-2zM251,438h1v1h-1zM253,438h1v1h-1zM243,439h1v1h-1zM246,439h1v1h-1zM249,439h1v1h-1zM252,439h1v1h-1zM244,440h1v1h-1zM246,440h1v1h-1zM248,440h1v1h-1zM250,440h1v1h-1zM253,440h1v1h-1zM244,441h1v1h-1zM247,441h1v1h-1zM251,441h1v1h-1zM243,442h1v1h-1zM246,442h1v1h-1zM249,442h1v1h-1zM251,442h1v1h-1zM253,442h1v1h-1zM245,443h1v1h-1zM248,443h2v1h-2zM252,443h1v1h-1zM244,444h1v1h-1zM246,444h1v1h-1zM248,444h1v1h-1zM251,444h1v1h-1zM244,445h1v1h-1zM247,445h1v1h-1zM250,445h1v1h-1zM253,445h1v1h-1zM245,446h1v1h-1zM248,446h2v1h-2zM251,446h1v1h-1zM253,446h1v1h-1zM243,447h1v1h-1zM246,447h1v1h-1zM249,447h1v1h-1zM252,447h1v1h-1zM244,448h1v1h-1zM246,448h1v1h-1zM248,448h1v1h-1zM250,448h1v1h-1zM253,448h1v1h-1zM244,449h1v1h-1zM247,449h1v1h-1zM251,449h1v1h-1zM243,450h1v1h-1zM246,450h1v1h-1zM249,450h1v1h-1zM251,450h1v1h-1zM253,450h1v1h-1zM245,451h1v1h-1zM248,451h2v1h-2zM252,451h1v1h-1zM244,452h1v1h-1zM246,452h1v1h-1zM248,452h1v1h-1zM251,452h1v1h-1zM244,453h1v1h-1zM247,453h1v1h-1zM250,453h1v1h-1zM253,453h1v1h-1zM245,454h1v1h-1zM248,454h2v1h-2zM251,454h1v1h-1zM253,454h1v1h-1zM243,455h1v1h-1zM246,455h1v1h-1zM249,455h1v1h-1zM252,455h1v1h-1zM244,456h1v1h-1zM246,456h1v1h-1zM248,456h1v1h-1zM250,456h1v1h-1zM253,456h1v1h-1zM244,457h1v1h-1zM247,457h1v1h-1zM251,457h1v1h-1zM243,458h1v1h-1zM246,458h1v1h-1zM249,458h1v1h-1zM251,458h1v1h-1zM253,458h1v1h-1zM245,459h1v1h-1zM248,459h2v1h-2zM252,459h1v1h-1zM244,460h1v1h-1zM246,460h1v1h-1zM248,460h1v1h-1zM251,460h1v1h-1zM244,461h1v1h-1zM247,461h1v1h-1zM250,461h1v1h-1zM253,461h1v1h-1zM245,462h1v1h-1zM248,462h2v1h-2zM251,462h1v1h-1zM253,462h1v1h-1zM243,463h1v1h-1zM246,463h1v1h-1zM249,463h1v1h-1zM252,463h1v1h-1zM244,464h1v1h-1zM246,464h1v1h-1zM248,464h1v1h-1zM250,464h1v1h-1zM253,464h1v1h-1zM244,465h1v1h-1zM247,465h1v1h-1zM251,465h1v1h-1zM243,466h1v1h-1zM246,466h1v1h-1zM249,466h1v1h-1zM251,466h1v1h-1zM253,466h1v1h-1zM245,467h1v1h-1zM248,467h2v1h-2zM252,467h1v1h-1zM244,468h1v1h-1zM246,468h1v1h-1zM248,468h1v1h-1zM251,468h1v1h-1zM244,469h1v1h-1zM247,469h1v1h-1zM250,469h1v1h-1zM253,469h1v1h-1zM245,470h1v1h-1zM248,470h2v1h-2zM251,470h1v1h-1zM253,470h1v1h-1zM243,471h1v1h-1zM246,471h1v1h-1zM249,471h1v1h-1zM252,471h1v1h-1zM244,472h1v1h-1zM246,472h1v1h-1zM248,472h1v1h-1zM250,472h1v1h-1zM253,472h1v1h-1zM244,473h1v1h-1zM247,473h1v1h-1zM251,473h1v1h-1zM243,474h1v1h-1zM246,474h1v1h-1zM249,474h1v1h-1zM251,474h1v1h-1zM253,474h1v1h-1zM245,475h1v1h-1zM248,475h2v1h-2zM252,475h1v1h-1zM244,476h1v1h-1zM246,476h1v1h-1zM248,476h1v1h-1zM251,476h1v1h-1zM244,477h1v1h-1zM247,477h1v1h-1zM250,477h1v1h-1zM253,477h1v1h-1zM245,478h1v1h-1zM248,478h2v1h-2zM251,478h1v1h-1zM253,478h1v1h-1zM243,479h1v1h-1zM246,479h1v1h-1zM249,479h1v1h-1zM252,479h1v1h-1zM244,480h1v1h-1zM246,480h1v1h-1zM248,480h1v1h-1zM250,480h1v1h-1zM253,480h1v1h-1zM244,481h1v1h-1zM247,481h1v1h-1zM251,481h1v1h-1zM243,482h1v1h-1zM246,482h1v1h-1zM249,482h1v1h-1zM251,482h1v1h-1zM253,482h1v1h-1zM245,483h1v1h-1zM248,483h2v1h-2zM252,483h1v1h-1zM244,484h1v1h-1zM246,484h1v1h-1zM248,484h1v1h-1zM251,484h1v1h-1zM244,485h1v1h-1zM247,485h1v1h-1zM250,485h1v1h-1zM253,485h1v1h-1zM245,486h1v1h-1zM248,486h2v1h-2zM251,486h1v1h-1zM253,486h1v1h-1zM243,487h1v1h-1zM246,487h1v1h-1zM249,487h1v1h-1zM252,487h1v1h-1zM244,488h1v1h-1zM246,488h1v1h-1zM248,488h1v1h-1zM250,488h1v1h-1zM253,488h1v1h-1zM244,489h1v1h-1zM247,489h1v1h-1zM251,489h1v1h-1zM243,490h1v1h-1zM246,490h1v1h-1zM249,490h1v1h-1zM251,490h1v1h-1zM253,490h1v1h-1zM245,491h1v1h-1zM248,491h2v1h-2zM252,491h1v1h-1zM244,492h1v1h-1zM246,492h1v1h-1zM248,492h1v1h-1zM251,492h1v1h-1zM244,493h1v1h-1zM247,493h1v1h-1zM250,493h1v1h-1zM253,493h1v1h-1zM245,494h1v1h-1zM248,494h2v1h-2zM251,494h1v1h-1zM253,494h1v1h-1zM243,495h1v1h-1zM246,495h1v1h-1zM249,495h1v1h-1zM252,495h1v1h-1zM244,496h1v1h-1zM246,496h1v1h-1zM248,496h1v1h-1zM250,496h1v1h-1zM253,496h1v1h-1zM244,497h1v1h-1zM247,497h1v1h-1zM251,497h1v1h-1zM243,498h1v1h-1zM246,498h1v1h-1zM249,498h1v1h-1zM251,498h1v1h-1zM253,498h1v1h-1zM245,499h1v1h-1zM248,499h2v1h-2zM252,499h1v1h-1zM244,500h1v1h-1zM246,500h1v1h-1zM248,500h1v1h-1zM251,500h1v1h-1zM244,501h1v1h-1zM247,501h1v1h-1zM250,501h1v1h-1zM253,501h1v1h-1zM245,502h1v1h-1zM248,502h2v1h-2zM251,502h1v1h-1zM253,502h1v1h-1zM243,503h1v1h-1zM246,503h1v1h-1zM249,503h1v1h-1zM252,503h1v1h-1zM244,504h1v1h-1zM246,504h1v1h-1zM248,504h1v1h-1zM250,504h1v1h-1zM253,504h1v1h-1zM244,505h1v1h-1zM247,505h1v1h-1zM251,505h1v1h-1zM243,506h1v1h-1zM246,506h1v1h-1zM249,506h1v1h-1zM251,506h1v1h-1zM253,506h1v1h-1zM245,507h1v1h-1zM248,507h2v1h-2zM252,507h1v1h-1zM244,508h1v1h-1zM246,508h1v1h-1zM248,508h1v1h-1zM251,508h1v1h-1zM244,509h1v1h-1zM247,509h1v1h-1zM250,509h1v1h-1zM253,509h1v1h-1zM245,510h1v1h-1zM248,510h2v1h-2zM251,510h1v1h-1zM253,510h1v1h-1zM243,511h1v1h-1zM246,511h1v1h-1zM249,511h1v1h-1zM252,511h1v1h-1zM244,512h1v1h-1zM246,512h1v1h-1zM248,512h1v1h-1zM250,512h1v1h-1zM253,512h1v1h-1zM244,513h1v1h-1zM247,513h1v1h-1zM251,513h1v1h-1zM243,514h1v1h-1zM246,514h1v1h-1zM249,514h1v1h-1zM251,514h1v1h-1zM253,514h1v1h-1zM245,515h1v1h-1zM248,515h2v1h-2zM252,515h1v1h-1zM244,516h1v1h-1zM246,516h1v1h-1zM248,516h1v1h-1zM251,516h1v1h-1zM244,517h1v1h-1zM247,517h1v1h-1zM250,517h1v1h-1zM253,517h1v1h-1zM245,518h1v1h-1zM248,518h2v1h-2zM251,518h1v1h-1zM253,518h1v1h-1zM243,519h1v1h-1zM246,519h1v1h-1zM249,519h1v1h-1zM252,519h1v1h-1zM244,520h1v1h-1zM246,520h1v1h-1zM248,520h1v1h-1zM250,520h1v1h-1zM253,520h1v1h-1zM244,521h1v1h-1zM247,521h1v1h-1zM251,521h1v1h-1zM243,522h1v1h-1zM246,522h1v1h-1zM249,522h1v1h-1zM251,522h1v1h-1zM253,522h1v1h-1zM245,523h1v1h-1zM248,523h2v1h-2zM252,523h1v1h-1zM244,524h1v1h-1zM246,524h1v1h-1zM248,524h1v1h-1zM251,524h1v1h-1zM244,525h1v1h-1zM247,525h1v1h-1zM250,525h1v1h-1zM253,525h1v1h-1zM245,526h1v1h-1zM248,526h2v1h-2zM251,526h1v1h-1zM253,526h1v1h-1zM243,527h1v1h-1zM246,527h1v1h-1zM249,527h1v1h-1zM252,527h1v1h-1zM244,528h1v1h-1zM246,528h1v1h-1zM248,528h1v1h-1zM250,528h1v1h-1zM253,528h1v1h-1zM244,529h1v1h-1zM247,529h1v1h-1zM251,529h1v1h-1zM243,530h1v1h-1zM246,530h1v1h-1zM249,530h1v1h-1zM251,530h1v1h-1zM253,530h1v1h-1zM245,531h1v1h-1zM248,531h2v1h-2zM252,531h1v1h-1zM244,532h1v1h-1zM246,532h1v1h-1zM248,532h1v1h-1zM251,532h1v1h-1zM244,533h1v1h-1zM247,533h1v1h-1zM250,533h1v1h-1zM253,533h1v1h-1zM245,534h1v1h-1zM248,534h2v1h-2zM251,534h1v1h-1zM253,534h1v1h-1zM243,535h1v1h-1zM246,535h1v1h-1zM249,535h1v1h-1zM252,535h1v1h-1zM244,536h1v1h-1zM246,536h1v1h-1zM248,536h1v1h-1zM250,536h1v1h-1zM253,536h1v1h-1zM244,537h1v1h-1zM247,537h1v1h-1zM251,537h1v1h-1zM243,538h1v1h-1zM246,538h1v1h-1zM249,538h1v1h-1zM251,538h1v1h-1zM253,538h1v1h-1zM245,539h1v1h-1zM248,539h2v1h-2zM252,539h1v1h-1zM244,540h1v1h-1zM246,540h1v1h-1zM248,540h1v1h-1zM251,540h1v1h-1zM244,541h1v1h-1zM247,541h1v1h-1zM250,541h1v1h-1zM253,541h1v1h-1zM245,542h1v1h-1zM248,542h2v1h-2zM251,542h1v1h-1zM253,542h1v1h-1zM243,543h1v1h-1zM246,543h1v1h-1zM249,543h1v1h-1zM252,543h1v1h-1zM244,544h1v1h-1zM246,544h1v1h-1zM248,544h1v1h-1zM250,544h1v1h-1zM253,544h1v1h-1zM244,545h1v1h-1zM247,545h1v1h-1zM251,545h1v1h-1zM243,546h1v1h-1zM246,546h1v1h-1zM249,546h1v1h-1zM251,546h1v1h-1zM253,546h1v1h-1zM245,547h1v1h-1zM248,547h2v1h-2zM252,547h1v1h-1zM244,548h1v1h-1zM246,548h1v1h-1zM248,548h1v1h-1zM251,548h1v1h-1zM244,549h1v1h-1zM247,549h1v1h-1zM250,549h1v1h-1zM253,549h1v1h-1zM245,550h1v1h-1zM248,550h2v1h-2zM251,550h1v1h-1zM253,550h1v1h-1zM243,551h1v1h-1zM246,551h1v1h-1zM249,551h1v1h-1zM252,551h1v1h-1zM244,552h1v1h-1zM246,552h1v1h-1zM248,552h1v1h-1zM250,552h1v1h-1zM253,552h1v1h-1zM244,553h1v1h-1zM247,553h1v1h-1zM251,553h1v1h-1zM243,554h1v1h-1zM246,554h1v1h-1zM249,554h1v1h-1zM251,554h1v1h-1zM253,554h1v1h-1zM245,555h1v1h-1zM248,555h2v1h-2zM252,555h1v1h-1zM244,556h1v1h-1zM246,556h1v1h-1zM248,556h1v1h-1zM251,556h1v1h-1zM244,557h1v1h-1zM247,557h1v1h-1zM250,557h1v1h-1zM253,557h1v1h-1zM245,558h1v1h-1zM248,558h2v1h-2zM251,558h1v1h-1zM253,558h1v1h-1zM243,559h1v1h-1zM246,559h1v1h-1zM249,559h1v1h-1zM252,559h1v1h-1zM244,560h1v1h-1zM246,560h1v1h-1zM248,560h1v1h-1zM250,560h1v1h-1zM253,560h1v1h-1zM244,561h1v1h-1zM247,561h1v1h-1zM251,561h1v1h-1zM243,562h1v1h-1zM246,562h1v1h-1zM249,562h1v1h-1zM251,562h1v1h-1zM253,562h1v1h-1z" fill="#4a4a4a" shape-rendering="crispEdges"/>
<line x1="243.10" y1="437.30" x2="243.10" y2="562.30" stroke="#222" stroke-width="1.0"/>
<line x1="254.50" y1="437.30" x2="254.50" y2="562.30" stroke="#222" stroke-width="1.0"/>
<clipPath id="c2357549"><rect x="241.6" y="0" width="14.400000000000006" height="700"/></clipPath>
<path clip-path="url(#c2357549)" d="M235.7,549.4 L258.4,539.6 L258.4,529.6 L235.7,539.4 Z" fill="#fff"/>
<line x1="235.70" y1="549.40" x2="258.40" y2="539.60" stroke="#333" stroke-width="0.9"/>
<line x1="240.00" y1="537.54" x2="258.40" y2="529.60" stroke="#333" stroke-width="0.9"/>
<clipPath id="c2181564"><rect x="223" y="0" width="16" height="700"/></clipPath>
<path clip-path="url(#c2181564)" d="M218.1,564.4 L240.8,554.6 L240.8,544.8000000000001 L218.1,554.6 Z" fill="#fff"/>
<line x1="218.10" y1="564.40" x2="240.80" y2="554.60" stroke="#333" stroke-width="0.9"/>
<line x1="218.10" y1="554.60" x2="240.80" y2="544.80" stroke="#333" stroke-width="0.9"/>
<rect x="241.60" y="562.30" width="14.00" height="4.6" fill="#ffffff"/>
<path d="M241.60,566.90 L241.60,563.30 Q241.60,562.30 242.80,562.30 L254.40,562.30 Q255.60,562.30 255.60,563.30 L255.60,566.90 Z" stroke="#2a2a2a" stroke-width="1.0" fill="none"/>
<line x1="241.60" y1="563.90" x2="255.60" y2="563.90" stroke="#444" stroke-width="0.8"/>
<line x1="241.60" y1="566.70" x2="255.60" y2="566.70" stroke="#111" stroke-width="1.2"/>
<line x1="242.50" y1="566.90" x2="242.50" y2="578.30" stroke="#2a2a2a" stroke-width="1.0" fill="none"/>
<line x1="254.70" y1="566.90" x2="254.70" y2="578.30" stroke="#2a2a2a" stroke-width="1.0" fill="none"/>
<line x1="242.50" y1="575.50" x2="254.70" y2="575.50" stroke="#333" stroke-width="0.8"/>
<line x1="241.90" y1="578.20" x2="255.30" y2="578.20" stroke="#000" stroke-width="1.6"/>
<line x1="248.60" y1="567.80" x2="248.60" y2="572.30" stroke="#555" stroke-width="0.7"/>
<path d="M240.80,578.80 L256.30,578.80 Q257.10,578.80 257.10,579.60 L257.10,589.30 Q257.10,590.10 256.30,590.10 L240.80,590.10 Q240.00,590.10 240.00,589.30 L240.00,579.60 Q240.00,578.80 240.80,578.80 Z" stroke="#2a2a2a" stroke-width="1.0" fill="none"/>
<line x1="248.55" y1="578.80" x2="248.55" y2="590.10" stroke="#444" stroke-width="0.8"/>
<rect x="224.20" y="577.70" width="14.00" height="4.6" fill="#ffffff"/>
<path d="M224.20,582.30 L224.20,578.70 Q224.20,577.70 225.40,577.70 L237.00,577.70 Q238.20,577.70 238.20,578.70 L238.20,582.30 Z" stroke="#2a2a2a" stroke-width="1.0" fill="none"/>
<line x1="224.20" y1="579.30" x2="238.20" y2="579.30" stroke="#444" stroke-width="0.8"/>
<line x1="224.20" y1="582.10" x2="238.20" y2="582.10" stroke="#111" stroke-width="1.2"/>
<line x1="225.10" y1="582.30" x2="225.10" y2="593.50" stroke="#2a2a2a" stroke-width="1.0" fill="none"/>
<line x1="237.30" y1="582.30" x2="237.30" y2="593.50" stroke="#2a2a2a" stroke-width="1.0" fill="none"/>
<line x1="225.10" y1="590.70" x2="237.30" y2="590.70" stroke="#333" stroke-width="0.8"/>
<line x1="224.50" y1="593.40" x2="237.90" y2="593.40" stroke="#000" stroke-width="1.6"/>
<line x1="231.20" y1="583.20" x2="231.20" y2="587.70" stroke="#555" stroke-width="0.7"/>
<path d="M223.20,594.00 L239.20,594.00 Q240.00,594.00 240.00,594.80 L240.00,604.80 Q240.00,605.60 239.20,605.60 L223.20,605.60 Q222.40,605.60 222.40,604.80 L222.40,594.80 Q222.40,594.00 223.20,594.00 Z" stroke="#2a2a2a" stroke-width="1.0" fill="none"/>
<line x1="231.20" y1="594.00" x2="231.20" y2="605.60" stroke="#444" stroke-width="0.8"/>
<line x1="156.00" y1="430.00" x2="274.30" y2="430.00" stroke="#000" stroke-width="0.9" fill="none"/>
<path d="M223.60,430.00 L215.80,431.80 Q214.80,430.00 215.80,428.20 Z" fill="#000"/>
<path d="M256.40,430.00 L264.20,428.20 Q265.20,430.00 264.20,431.80 Z" fill="#000"/>
<g transform="translate(158.50,425.70) scale(1,1.04)"><text x="0.00" y="0" font-size="15.5">M33x </text><path transform="translate(37.90,0) scale(0.00757,-0.00728)" d="M763,0 L583,0 L583,1147 C540,1106 483,1065 413,1024 C343,983 280,952 224,931 L224,1105 C325,1152 413,1209 488,1276 C563,1343 616,1409 647,1472 L763,1472 Z" fill="#000" stroke="#000" stroke-width="39.6"/></g>
<line x1="241.00" y1="590.50" x2="241.00" y2="613.00" stroke="#000" stroke-width="0.9" fill="none"/>
<line x1="256.00" y1="590.50" x2="256.00" y2="613.00" stroke="#000" stroke-width="0.9" fill="none"/>
<line x1="223.50" y1="611.00" x2="325.00" y2="611.00" stroke="#000" stroke-width="0.9" fill="none"/>
<path d="M239.60,611.00 L231.80,612.80 Q230.80,611.00 231.80,609.20 Z" fill="#000"/>
<path d="M257.40,611.00 L265.20,609.20 Q266.20,611.00 265.20,612.80 Z" fill="#000"/>
<g transform="translate(277.50,606.30) scale(1,1.04)"><text x="0.00" y="0" font-size="15.5">G  /2&quot;</text><path transform="translate(16.36,0) scale(0.00757,-0.00728)" d="M763,0 L583,0 L583,1147 C540,1106 483,1065 413,1024 C343,983 280,952 224,931 L224,1105 C325,1152 413,1209 488,1276 C563,1343 616,1409 647,1472 L763,1472 Z" fill="#000" stroke="#000" stroke-width="39.6"/></g>
<line x1="224.00" y1="606.00" x2="224.00" y2="639.00" stroke="#000" stroke-width="0.9" fill="none"/>
<line x1="239.00" y1="606.00" x2="239.00" y2="639.00" stroke="#000" stroke-width="0.9" fill="none"/>
<line x1="205.00" y1="636.00" x2="307.00" y2="636.00" stroke="#000" stroke-width="0.9" fill="none"/>
<path d="M222.60,636.00 L214.80,637.80 Q213.80,636.00 214.80,634.20 Z" fill="#000"/>
<path d="M240.40,636.00 L248.20,634.20 Q249.20,636.00 248.20,637.80 Z" fill="#000"/>
<g transform="translate(260.50,632.00) scale(1,1.04)"><text x="0.00" y="0" font-size="15.5">G 3/8&quot;</text></g>
<line x1="434.00" y1="77.90" x2="434.00" y2="111.00" stroke="#000" stroke-width="0.9" fill="none"/>
<line x1="527.00" y1="77.90" x2="527.00" y2="289.00" stroke="#000" stroke-width="0.9" fill="none"/>
<line x1="433.60" y1="81.00" x2="526.60" y2="81.00" stroke="#000" stroke-width="0.9" fill="none"/>
<path d="M435.40,81.00 L443.20,79.20 Q444.20,81.00 443.20,82.80 Z" fill="#000"/>
<path d="M525.60,81.00 L517.80,82.80 Q516.80,81.00 517.80,79.20 Z" fill="#000"/>
<g transform="translate(480.20,77.20) scale(1,1.04)"><text x="-12.93" y="0" font-size="15.5"> 00</text><path transform="translate(-12.93,0) scale(0.00757,-0.00728)" d="M763,0 L583,0 L583,1147 C540,1106 483,1065 413,1024 C343,983 280,952 224,931 L224,1105 C325,1152 413,1209 488,1276 C563,1343 616,1409 647,1472 L763,1472 Z" fill="#000" stroke="#000" stroke-width="39.6"/></g>
<path d="M423.90000000000003,334.8 L423.90000000000003,123.8 A10.2,10.2 0 0 1 444.3,123.8 L444.3,334.8" stroke="#000" stroke-width="1.75" fill="none"/>
<ellipse cx="434.1" cy="186.5" rx="10.2" ry="2.6" stroke="#000" stroke-width="1.4" fill="none"/>
<line x1="423.90" y1="198.60" x2="444.30" y2="198.60" stroke="#000" stroke-width="1.4" fill="none"/>
<path d="M434.0,198.6 L434.0,425" stroke="#000" stroke-width="0.8" fill="none" stroke-dasharray="10.6 2 1.1 2"/>
<line x1="439.60" y1="114.00" x2="484.60" y2="114.00" stroke="#000" stroke-width="0.9" fill="none"/>
<line x1="481.00" y1="113.60" x2="481.00" y2="340.70" stroke="#000" stroke-width="0.9" fill="none"/>
<path d="M481.00,115.40 L482.80,123.20 Q481.00,124.20 479.20,123.20 Z" fill="#000"/>
<path d="M481.00,339.60 L479.20,331.80 Q481.00,330.80 482.80,331.80 Z" fill="#000"/>
<line x1="477.70" y1="341.00" x2="484.60" y2="341.00" stroke="#000" stroke-width="0.9" fill="none"/>
<g transform="translate(478.30,239.90) rotate(-90) scale(1,1.04)"><text x="0.00" y="0" font-size="15.5">244</text></g>
<line x1="369.70" y1="205.00" x2="462.30" y2="205.00" stroke="#000" stroke-width="0.9" fill="none"/>
<path d="M422.60,205.00 L414.80,206.80 Q413.80,205.00 414.80,203.20 Z" fill="#000"/>
<path d="M445.40,205.00 L453.20,203.20 Q454.20,205.00 453.20,206.80 Z" fill="#000"/>
<g transform="translate(373.50,200.90) scale(1,1.04)"><text x="0.00" y="0" font-size="15.5">Ø22</text></g>
<line x1="410.00" y1="268.30" x2="410.00" y2="335.00" stroke="#000" stroke-width="0.9" fill="none"/>
<line x1="457.00" y1="268.30" x2="457.00" y2="332.00" stroke="#000" stroke-width="0.9" fill="none"/>
<line x1="356.50" y1="271.00" x2="476.00" y2="271.00" stroke="#000" stroke-width="0.9" fill="none"/>
<path d="M408.60,271.00 L400.80,272.80 Q399.80,271.00 400.80,269.20 Z" fill="#000"/>
<path d="M458.40,271.00 L466.20,269.20 Q467.20,271.00 466.20,272.80 Z" fill="#000"/>
<g transform="translate(360.30,267.10) scale(1,1.04)"><text x="0.00" y="0" font-size="15.5">Ø50</text></g>
<line x1="325.00" y1="251.60" x2="325.00" y2="340.70" stroke="#000" stroke-width="0.9" fill="none"/>
<path d="M325.00,339.60 L323.20,331.80 Q325.00,330.80 326.80,331.80 Z" fill="#000"/>
<line x1="325.00" y1="356.30" x2="325.00" y2="373.70" stroke="#000" stroke-width="0.9" fill="none"/>
<path d="M325.00,357.40 L326.80,365.20 Q325.00,366.20 323.20,365.20 Z" fill="#000"/>
<g transform="translate(321.90,305.60) rotate(-90) scale(1,1.04)"><text x="0.00" y="0" font-size="15.5">max 35</text></g>
<line x1="322.10" y1="341.00" x2="390.00" y2="341.00" stroke="#000" stroke-width="0.9" fill="none"/>
<line x1="390.00" y1="340.70" x2="475.40" y2="340.70" stroke="#000" stroke-width="1.75" fill="none"/>
<line x1="322.10" y1="356.00" x2="408.60" y2="356.00" stroke="#000" stroke-width="0.9" fill="none"/>
<line x1="390.50" y1="345.30" x2="393.50" y2="341.00" stroke="#222" stroke-width="1.0"/>
<line x1="394.50" y1="345.30" x2="397.50" y2="341.00" stroke="#222" stroke-width="1.0"/>
<line x1="398.50" y1="345.30" x2="401.50" y2="341.00" stroke="#222" stroke-width="1.0"/>
<line x1="402.50" y1="345.30" x2="405.50" y2="341.00" stroke="#222" stroke-width="1.0"/>
<line x1="406.50" y1="345.30" x2="409.50" y2="341.00" stroke="#222" stroke-width="1.0"/>
<line x1="410.50" y1="345.30" x2="413.50" y2="341.00" stroke="#222" stroke-width="1.0"/>
<line x1="414.50" y1="345.30" x2="417.50" y2="341.00" stroke="#222" stroke-width="1.0"/>
<line x1="449.10" y1="345.30" x2="452.10" y2="341.00" stroke="#222" stroke-width="1.0"/>
<line x1="453.10" y1="345.30" x2="456.10" y2="341.00" stroke="#222" stroke-width="1.0"/>
<line x1="457.10" y1="345.30" x2="460.10" y2="341.00" stroke="#222" stroke-width="1.0"/>
<line x1="461.10" y1="345.30" x2="464.10" y2="341.00" stroke="#222" stroke-width="1.0"/>
<line x1="465.10" y1="345.30" x2="468.10" y2="341.00" stroke="#222" stroke-width="1.0"/>
<line x1="469.10" y1="345.30" x2="472.10" y2="341.00" stroke="#222" stroke-width="1.0"/>
<rect x="410.40" y="335.00" width="47.20" height="5.10" rx="0" stroke="#000" stroke-width="1.75" fill="none"/>
<line x1="422.10" y1="340.70" x2="422.10" y2="356.30" stroke="#000" stroke-width="1.75" fill="none"/>
<line x1="445.30" y1="340.70" x2="445.30" y2="356.30" stroke="#000" stroke-width="1.75" fill="none"/>
<line x1="422.10" y1="363.10" x2="422.10" y2="376.00" stroke="#000" stroke-width="1.75" fill="none"/>
<line x1="445.30" y1="363.10" x2="445.30" y2="376.00" stroke="#000" stroke-width="1.75" fill="none"/>
<line x1="419.00" y1="340.70" x2="419.00" y2="376.00" stroke="#000" stroke-width="0.8" fill="none" stroke-dasharray="6 1.2"/>
<line x1="448.00" y1="340.70" x2="448.00" y2="376.00" stroke="#000" stroke-width="0.8" fill="none" stroke-dasharray="6 1.2"/>
<path d="M410.1,356.3 L457.3,356.3 L453.8,358 L413.6,358 Z" stroke="#000" stroke-width="1.4" fill="none"/>
<path d="M417.9,358 L450,358 L450,363.1 L417.9,363.1 Z" stroke="#333" stroke-width="0.8" fill="none"/>
<path d="M418,360.5 Q426,357 434,360.5 Q442,364 450,360.5 M418,360.5 Q426,364 434,360.5 Q442,357 450,360.5" stroke="#000" stroke-width="0.9" fill="none"/>
<line x1="350.00" y1="376.00" x2="466.40" y2="376.00" stroke="#000" stroke-width="0.9" fill="none"/>
<path d="M417.60,376.00 L409.80,377.80 Q408.80,376.00 409.80,374.20 Z" fill="#000"/>
<path d="M449.40,376.00 L457.20,374.20 Q458.20,376.00 457.20,377.80 Z" fill="#000"/>
<g transform="translate(353.70,371.10) scale(1,1.04)"><text x="0.00" y="0" font-size="15.5">Ø30</text></g>
<path d="M419.5,376.2 L447.5,376.2 Q450.2,376.2 450.2,379 L450.2,387 Q450.2,389.6 447.5,389.6 L419.5,389.6 Q417,389.6 417,387 L417,379 Q417,376.2 419.5,376.2 Z" stroke="#222" stroke-width="1.1" fill="none"/>
<line x1="421.30" y1="376.60" x2="421.30" y2="389.20" stroke="#555" stroke-width="0.8"/>
<line x1="425.10" y1="376.60" x2="425.10" y2="389.20" stroke="#555" stroke-width="0.8"/>
<line x1="442.30" y1="376.60" x2="442.30" y2="389.20" stroke="#555" stroke-width="0.8"/>
<line x1="446.10" y1="376.60" x2="446.10" y2="389.20" stroke="#555" stroke-width="0.8"/>
<path d="M425.1,377 Q433.7,379.5 442.3,377 M425.1,389 Q433.7,386.5 442.3,389" stroke="#555" stroke-width="0.8" fill="none"/>
<line x1="424.50" y1="389.60" x2="424.50" y2="399.30" stroke="#000" stroke-width="1.75" fill="none"/>
<line x1="442.90" y1="389.60" x2="442.90" y2="399.30" stroke="#000" stroke-width="1.75" fill="none"/>
<line x1="424.50" y1="399.00" x2="442.90" y2="399.00" stroke="#000" stroke-width="1.75" fill="none"/>
<line x1="422.00" y1="389.60" x2="422.00" y2="399.30" stroke="#000" stroke-width="0.8" fill="none" stroke-dasharray="6 1.2"/>
<line x1="446.00" y1="389.60" x2="446.00" y2="399.30" stroke="#000" stroke-width="0.8" fill="none" stroke-dasharray="6 1.2"/>
<line x1="330.00" y1="398.00" x2="463.90" y2="398.00" stroke="#000" stroke-width="0.9" fill="none"/>
<path d="M420.60,398.00 L412.80,399.80 Q411.80,398.00 412.80,396.20 Z" fill="#000"/>
<path d="M447.40,398.00 L455.20,396.20 Q456.20,398.00 455.20,399.80 Z" fill="#000"/>
<g transform="translate(333.80,393.90) scale(1,1.04)"><text x="0.00" y="0" font-size="15.5">W26x 9F</text><path transform="translate(39.62,0) scale(0.00757,-0.00728)" d="M763,0 L583,0 L583,1147 C540,1106 483,1065 413,1024 C343,983 280,952 224,931 L224,1105 C325,1152 413,1209 488,1276 C563,1343 616,1409 647,1472 L763,1472 Z" fill="#000" stroke="#000" stroke-width="39.6"/></g>
<line x1="424.00" y1="399.50" x2="424.00" y2="425.00" stroke="#000" stroke-width="0.9" fill="none"/>
<line x1="443.00" y1="399.50" x2="443.00" y2="425.00" stroke="#000" stroke-width="0.9" fill="none"/>
<line x1="346.70" y1="422.00" x2="460.70" y2="422.00" stroke="#000" stroke-width="0.9" fill="none"/>
<path d="M422.60,422.00 L414.80,423.80 Q413.80,422.00 414.80,420.20 Z" fill="#000"/>
<path d="M444.40,422.00 L452.20,420.20 Q453.20,422.00 452.20,423.80 Z" fill="#000"/>
<g transform="translate(350.00,417.50) scale(1,1.04)"><text x="0.00" y="0" font-size="15.5">G  /2&quot;</text><path transform="translate(16.36,0) scale(0.00757,-0.00728)" d="M763,0 L583,0 L583,1147 C540,1106 483,1065 413,1024 C343,983 280,952 224,931 L224,1105 C325,1152 413,1209 488,1276 C563,1343 616,1409 647,1472 L763,1472 Z" fill="#000" stroke="#000" stroke-width="39.6"/></g>
<line x1="504.00" y1="254.00" x2="504.00" y2="335.00" stroke="#000" stroke-width="0.9" fill="none"/>
<line x1="550.00" y1="254.00" x2="550.00" y2="335.00" stroke="#000" stroke-width="0.9" fill="none"/>
<line x1="484.60" y1="258.00" x2="604.60" y2="258.00" stroke="#000" stroke-width="0.9" fill="none"/>
<path d="M502.60,258.00 L494.80,259.80 Q493.80,258.00 494.80,256.20 Z" fill="#000"/>
<path d="M551.40,258.00 L559.20,256.20 Q560.20,258.00 559.20,259.80 Z" fill="#000"/>
<g transform="translate(572.20,253.50) scale(1,1.04)"><text x="0.00" y="0" font-size="15.5">Ø50</text></g>
<path d="M527.0,289 L527.0,405" stroke="#000" stroke-width="0.8" fill="none" stroke-dasharray="10.6 2 1.1 2"/>
<path d="M515.3,300 L515.3,296 Q515.3,294.2 517.1,294.2 L536.6,294.2 Q538.4,294.2 538.4,296 L538.4,300" stroke="#000" stroke-width="1.4" fill="none"/>
<line x1="520.10" y1="294.50" x2="520.10" y2="300.00" stroke="#000" stroke-width="1.4" fill="none"/>
<line x1="533.30" y1="294.50" x2="533.30" y2="300.00" stroke="#000" stroke-width="1.4" fill="none"/>
<path d="M515.3,300 L538.4,300 L543.9,301.6 L543.9,314.9 L509.8,314.9 L509.8,301.6 Z" stroke="#000" stroke-width="1.4" fill="none"/>
<path d="M516.2,300 L516.2,308.6 L512.1,313.8 M536.5,300 L536.5,308.6 L541.6,313.8" stroke="#000" stroke-width="1.4" fill="none"/>
<line x1="516.20" y1="304.50" x2="536.50" y2="304.50" stroke="#000" stroke-width="1.4" fill="none"/>
<line x1="516.20" y1="308.60" x2="536.50" y2="308.60" stroke="#000" stroke-width="1.4" fill="none"/>
<path d="M513.2,312.2 Q526.8,305.2 540.4,312.2" stroke="#000" stroke-width="1.5" fill="none"/>
<line x1="511.50" y1="313.40" x2="542.20" y2="313.40" stroke="#000" stroke-width="1.0"/>
<path d="M512.5,314.7 L541,314.7 L541.9,316 L541.9,318 L511.7,318 L511.7,316 Z" stroke="#000" stroke-width="1.4" fill="none"/>
<rect x="510.30" y="318.00" width="33.00" height="17.10" rx="0" stroke="#000" stroke-width="1.75" fill="none"/>
<rect x="503.40" y="335.10" width="45.90" height="5.00" rx="0" stroke="#000" stroke-width="1.75" fill="none"/>
<line x1="489.10" y1="340.70" x2="565.00" y2="340.70" stroke="#000" stroke-width="1.75" fill="none"/>
<line x1="565.70" y1="341.00" x2="645.80" y2="341.00" stroke="#000" stroke-width="0.9" fill="none"/>
<line x1="487.50" y1="345.30" x2="490.50" y2="341.00" stroke="#222" stroke-width="1.0"/>
<line x1="491.50" y1="345.30" x2="494.50" y2="341.00" stroke="#222" stroke-width="1.0"/>
<line x1="495.50" y1="345.30" x2="498.50" y2="341.00" stroke="#222" stroke-width="1.0"/>
<line x1="499.50" y1="345.30" x2="502.50" y2="341.00" stroke="#222" stroke-width="1.0"/>
<line x1="503.50" y1="345.30" x2="506.50" y2="341.00" stroke="#222" stroke-width="1.0"/>
<line x1="507.50" y1="345.30" x2="510.50" y2="341.00" stroke="#222" stroke-width="1.0"/>
<line x1="544.00" y1="345.30" x2="547.00" y2="341.00" stroke="#222" stroke-width="1.0"/>
<line x1="548.00" y1="345.30" x2="551.00" y2="341.00" stroke="#222" stroke-width="1.0"/>
<line x1="552.00" y1="345.30" x2="555.00" y2="341.00" stroke="#222" stroke-width="1.0"/>
<line x1="556.00" y1="345.30" x2="559.00" y2="341.00" stroke="#222" stroke-width="1.0"/>
<line x1="560.00" y1="345.30" x2="563.00" y2="341.00" stroke="#222" stroke-width="1.0"/>
<line x1="510.00" y1="340.70" x2="510.00" y2="358.00" stroke="#000" stroke-width="0.9" fill="none"/>
<line x1="543.00" y1="340.70" x2="543.00" y2="358.00" stroke="#000" stroke-width="0.9" fill="none"/>
<line x1="510.30" y1="340.70" x2="510.30" y2="345.00" stroke="#000" stroke-width="1.75" fill="none"/>
<line x1="543.30" y1="340.70" x2="543.30" y2="345.00" stroke="#000" stroke-width="1.75" fill="none"/>
<path d="M505.4,359.5 L548.7,359.5 C550.8,359.5 550.8,361.7 548.7,361.7 L505.4,361.7 C503.3,361.7 503.3,359.5 505.4,359.5 Z" stroke="#000" stroke-width="1.4" fill="none"/>
<line x1="508.00" y1="358.40" x2="545.60" y2="358.40" stroke="#000" stroke-width="2"/>
<line x1="510.00" y1="361.70" x2="510.00" y2="382.00" stroke="#000" stroke-width="0.9" fill="none"/>
<line x1="543.00" y1="361.70" x2="543.00" y2="382.00" stroke="#000" stroke-width="0.9" fill="none"/>
<line x1="492.60" y1="372.00" x2="600.00" y2="372.00" stroke="#000" stroke-width="0.9" fill="none"/>
<path d="M508.60,372.00 L500.80,373.80 Q499.80,372.00 500.80,370.20 Z" fill="#000"/>
<path d="M544.40,372.00 L552.20,370.20 Q553.20,372.00 552.20,373.80 Z" fill="#000"/>
<g transform="translate(568.40,368.30) scale(1,1.04)"><text x="0.00" y="0" font-size="15.5">Ø35</text></g>
<path d="M509.4,383.5 Q517.5,380.8 526,382.2 Q535.5,380.8 544.2,383.5 L544.2,408 Q544.2,409.8 542.5,409.8 L511.1,409.8 Q509.4,409.8 509.4,408 Z" stroke="#111" stroke-width="1.3" fill="none"/>
<line x1="525.80" y1="382.50" x2="525.80" y2="409.00" stroke="#222" stroke-width="0.9"/>
<line x1="527.60" y1="382.50" x2="527.60" y2="409.00" stroke="#222" stroke-width="0.9"/>
<rect x="511.20" y="409.40" width="31.20" height="5.10" rx="0" stroke="#000" stroke-width="1.4" fill="none"/>
<line x1="493.00" y1="412.00" x2="611.00" y2="412.00" stroke="#000" stroke-width="0.9" fill="none"/>
<path d="M507.60,412.00 L499.80,413.80 Q498.80,412.00 499.80,410.20 Z" fill="#000"/>
<path d="M545.40,412.00 L553.20,410.20 Q554.20,412.00 553.20,413.80 Z" fill="#000"/>
<g transform="translate(563.20,408.00) scale(1,1.04)"><text x="0.00" y="0" font-size="15.5">M33x </text><path transform="translate(37.90,0) scale(0.00757,-0.00728)" d="M763,0 L583,0 L583,1147 C540,1106 483,1065 413,1024 C343,983 280,952 224,931 L224,1105 C325,1152 413,1209 488,1276 C563,1343 616,1409 647,1472 L763,1472 Z" fill="#000" stroke="#000" stroke-width="39.6"/></g>
<line x1="512.80" y1="414.30" x2="512.80" y2="418.10" stroke="#111" stroke-width="1.1" fill="none"/>
<line x1="523.20" y1="414.30" x2="523.20" y2="418.10" stroke="#111" stroke-width="1.1" fill="none"/>
<line x1="518.00" y1="414.50" x2="518.00" y2="418.10" stroke="#666" stroke-width="0.7"/>
<path d="M512.80,418.10 L523.20,418.10 Q524.20,418.50 524.20,420.00 L524.20,437.20 M512.80,418.10 Q511.40,418.50 511.40,420.00 L511.40,437.20" stroke="#111" stroke-width="1.1" fill="none"/>
<line x1="512.00" y1="418.70" x2="512.00" y2="422.10" stroke="#333" stroke-width="0.9"/>
<line x1="514.90" y1="418.70" x2="514.90" y2="422.10" stroke="#333" stroke-width="0.9"/>
<line x1="517.80" y1="418.70" x2="517.80" y2="422.10" stroke="#333" stroke-width="0.9"/>
<line x1="520.70" y1="418.70" x2="520.70" y2="422.10" stroke="#333" stroke-width="0.9"/>
<line x1="523.60" y1="418.70" x2="523.60" y2="422.10" stroke="#333" stroke-width="0.9"/>
<line x1="511.40" y1="422.60" x2="524.20" y2="422.60" stroke="#000" stroke-width="1.6"/>
<line x1="511.40" y1="425.20" x2="524.20" y2="425.20" stroke="#444" stroke-width="0.8"/>
<line x1="511.40" y1="433.30" x2="524.20" y2="433.30" stroke="#444" stroke-width="0.8"/>
<line x1="511.40" y1="436.20" x2="524.20" y2="436.20" stroke="#000" stroke-width="1.6"/>
<line x1="517.80" y1="426.00" x2="517.80" y2="428.00" stroke="#555" stroke-width="0.7"/>
<line x1="530.30" y1="414.30" x2="530.30" y2="418.10" stroke="#111" stroke-width="1.1" fill="none"/>
<line x1="540.70" y1="414.30" x2="540.70" y2="418.10" stroke="#111" stroke-width="1.1" fill="none"/>
<line x1="535.50" y1="414.50" x2="535.50" y2="418.10" stroke="#666" stroke-width="0.7"/>
<path d="M530.30,418.10 L540.70,418.10 Q541.70,418.50 541.70,420.00 L541.70,437.20 M530.30,418.10 Q528.90,418.50 528.90,420.00 L528.90,437.20" stroke="#111" stroke-width="1.1" fill="none"/>
<line x1="529.50" y1="418.70" x2="529.50" y2="422.10" stroke="#333" stroke-width="0.9"/>
<line x1="532.40" y1="418.70" x2="532.40" y2="422.10" stroke="#333" stroke-width="0.9"/>
<line x1="535.30" y1="418.70" x2="535.30" y2="422.10" stroke="#333" stroke-width="0.9"/>
<line x1="538.20" y1="418.70" x2="538.20" y2="422.10" stroke="#333" stroke-width="0.9"/>
<line x1="541.10" y1="418.70" x2="541.10" y2="422.10" stroke="#333" stroke-width="0.9"/>
<line x1="528.90" y1="422.60" x2="541.70" y2="422.60" stroke="#000" stroke-width="1.6"/>
<line x1="528.90" y1="425.20" x2="541.70" y2="425.20" stroke="#444" stroke-width="0.8"/>
<line x1="528.90" y1="433.30" x2="541.70" y2="433.30" stroke="#444" stroke-width="0.8"/>
<line x1="528.90" y1="436.20" x2="541.70" y2="436.20" stroke="#000" stroke-width="1.6"/>
<line x1="535.30" y1="426.00" x2="535.30" y2="428.00" stroke="#555" stroke-width="0.7"/>
<rect x="512.60" y="437.20" width="10.90" height="140.50" fill="#a0a0a0"/>
<path d="M513,437h1v1h-1zM516,437h1v1h-1zM519,437h1v1h-1zM522,437h1v1h-1zM514,438h1v1h-1zM517,438h1v1h-1zM515,439h1v1h-1zM518,439h1v1h-1zM521,439h1v1h-1zM519,440h1v1h-1zM522,440h1v1h-1zM513,441h1v1h-1zM516,441h1v1h-1zM520,441h1v1h-1zM515,442h1v1h-1zM514,443h1v1h-1zM517,443h2v1h-2zM521,443h1v1h-1zM520,444h1v1h-1zM513,445h1v1h-1zM516,445h1v1h-1zM519,445h1v1h-1zM522,445h1v1h-1zM514,446h1v1h-1zM517,446h1v1h-1zM515,447h1v1h-1zM518,447h1v1h-1zM521,447h1v1h-1zM519,448h1v1h-1zM522,448h1v1h-1zM513,449h1v1h-1zM516,449h1v1h-1zM520,449h1v1h-1zM515,450h1v1h-1zM514,451h1v1h-1zM517,451h2v1h-2zM521,451h1v1h-1zM520,452h1v1h-1zM513,453h1v1h-1zM516,453h1v1h-1zM519,453h1v1h-1zM522,453h1v1h-1zM514,454h1v1h-1zM517,454h1v1h-1zM515,455h1v1h-1zM518,455h1v1h-1zM521,455h1v1h-1zM519,456h1v1h-1zM522,456h1v1h-1zM513,457h1v1h-1zM516,457h1v1h-1zM520,457h1v1h-1zM515,458h1v1h-1zM514,459h1v1h-1zM517,459h2v1h-2zM521,459h1v1h-1zM520,460h1v1h-1zM513,461h1v1h-1zM516,461h1v1h-1zM519,461h1v1h-1zM522,461h1v1h-1zM514,462h1v1h-1zM517,462h1v1h-1zM515,463h1v1h-1zM518,463h1v1h-1zM521,463h1v1h-1zM519,464h1v1h-1zM522,464h1v1h-1zM513,465h1v1h-1zM516,465h1v1h-1zM520,465h1v1h-1zM515,466h1v1h-1zM514,467h1v1h-1zM517,467h2v1h-2zM521,467h1v1h-1zM520,468h1v1h-1zM513,469h1v1h-1zM516,469h1v1h-1zM519,469h1v1h-1zM522,469h1v1h-1zM514,470h1v1h-1zM517,470h1v1h-1zM515,471h1v1h-1zM518,471h1v1h-1zM521,471h1v1h-1zM519,472h1v1h-1zM522,472h1v1h-1zM513,473h1v1h-1zM516,473h1v1h-1zM520,473h1v1h-1zM515,474h1v1h-1zM514,475h1v1h-1zM517,475h2v1h-2zM521,475h1v1h-1zM520,476h1v1h-1zM513,477h1v1h-1zM516,477h1v1h-1zM519,477h1v1h-1zM522,477h1v1h-1zM514,478h1v1h-1zM517,478h1v1h-1zM515,479h1v1h-1zM518,479h1v1h-1zM521,479h1v1h-1zM519,480h1v1h-1zM522,480h1v1h-1zM513,481h1v1h-1zM516,481h1v1h-1zM520,481h1v1h-1zM515,482h1v1h-1zM514,483h1v1h-1zM517,483h2v1h-2zM521,483h1v1h-1zM520,484h1v1h-1zM513,485h1v1h-1zM516,485h1v1h-1zM519,485h1v1h-1zM522,485h1v1h-1zM514,486h1v1h-1zM517,486h1v1h-1zM515,487h1v1h-1zM518,487h1v1h-1zM521,487h1v1h-1zM519,488h1v1h-1zM522,488h1v1h-1zM513,489h1v1h-1zM516,489h1v1h-1zM520,489h1v1h-1zM515,490h1v1h-1zM514,491h1v1h-1zM517,491h2v1h-2zM521,491h1v1h-1zM520,492h1v1h-1zM513,493h1v1h-1zM516,493h1v1h-1zM519,493h1v1h-1zM522,493h1v1h-1zM514,494h1v1h-1zM517,494h1v1h-1zM515,495h1v1h-1zM518,495h1v1h-1zM521,495h1v1h-1zM519,496h1v1h-1zM522,496h1v1h-1zM513,497h1v1h-1zM516,497h1v1h-1zM520,497h1v1h-1zM515,498h1v1h-1zM514,499h1v1h-1zM517,499h2v1h-2zM521,499h1v1h-1zM520,500h1v1h-1zM513,501h1v1h-1zM516,501h1v1h-1zM519,501h1v1h-1zM522,501h1v1h-1zM514,502h1v1h-1zM517,502h1v1h-1zM515,503h1v1h-1zM518,503h1v1h-1zM521,503h1v1h-1zM519,504h1v1h-1zM522,504h1v1h-1zM513,505h1v1h-1zM516,505h1v1h-1zM520,505h1v1h-1zM515,506h1v1h-1zM514,507h1v1h-1zM517,507h2v1h-2zM521,507h1v1h-1zM520,508h1v1h-1zM513,509h1v1h-1zM516,509h1v1h-1zM519,509h1v1h-1zM522,509h1v1h-1zM514,510h1v1h-1zM517,510h1v1h-1zM515,511h1v1h-1zM518,511h1v1h-1zM521,511h1v1h-1zM519,512h1v1h-1zM522,512h1v1h-1zM513,513h1v1h-1zM516,513h1v1h-1zM520,513h1v1h-1zM515,514h1v1h-1zM514,515h1v1h-1zM517,515h2v1h-2zM521,515h1v1h-1zM520,516h1v1h-1zM513,517h1v1h-1zM516,517h1v1h-1zM519,517h1v1h-1zM522,517h1v1h-1zM514,518h1v1h-1zM517,518h1v1h-1zM515,519h1v1h-1zM518,519h1v1h-1zM521,519h1v1h-1zM519,520h1v1h-1zM522,520h1v1h-1zM513,521h1v1h-1zM516,521h1v1h-1zM520,521h1v1h-1zM515,522h1v1h-1zM514,523h1v1h-1zM517,523h2v1h-2zM521,523h1v1h-1zM520,524h1v1h-1zM513,525h1v1h-1zM516,525h1v1h-1zM519,525h1v1h-1zM522,525h1v1h-1zM514,526h1v1h-1zM517,526h1v1h-1zM515,527h1v1h-1zM518,527h1v1h-1zM521,527h1v1h-1zM519,528h1v1h-1zM522,528h1v1h-1zM513,529h1v1h-1zM516,529h1v1h-1zM520,529h1v1h-1zM515,530h1v1h-1zM514,531h1v1h-1zM517,531h2v1h-2zM521,531h1v1h-1zM520,532h1v1h-1zM513,533h1v1h-1zM516,533h1v1h-1zM519,533h1v1h-1zM522,533h1v1h-1zM514,534h1v1h-1zM517,534h1v1h-1zM515,535h1v1h-1zM518,535h1v1h-1zM521,535h1v1h-1zM519,536h1v1h-1zM522,536h1v1h-1zM513,537h1v1h-1zM516,537h1v1h-1zM520,537h1v1h-1zM515,538h1v1h-1zM514,539h1v1h-1zM517,539h2v1h-2zM521,539h1v1h-1zM520,540h1v1h-1zM513,541h1v1h-1zM516,541h1v1h-1zM519,541h1v1h-1zM522,541h1v1h-1zM514,542h1v1h-1zM517,542h1v1h-1zM515,543h1v1h-1zM518,543h1v1h-1zM521,543h1v1h-1zM519,544h1v1h-1zM522,544h1v1h-1zM513,545h1v1h-1zM516,545h1v1h-1zM520,545h1v1h-1zM515,546h1v1h-1zM514,547h1v1h-1zM517,547h2v1h-2zM521,547h1v1h-1zM520,548h1v1h-1zM513,549h1v1h-1zM516,549h1v1h-1zM519,549h1v1h-1zM522,549h1v1h-1zM514,550h1v1h-1zM517,550h1v1h-1zM515,551h1v1h-1zM518,551h1v1h-1zM521,551h1v1h-1zM519,552h1v1h-1zM522,552h1v1h-1zM513,553h1v1h-1zM516,553h1v1h-1zM520,553h1v1h-1zM515,554h1v1h-1zM514,555h1v1h-1zM517,555h2v1h-2zM521,555h1v1h-1zM520,556h1v1h-1zM513,557h1v1h-1zM516,557h1v1h-1zM519,557h1v1h-1zM522,557h1v1h-1zM514,558h1v1h-1zM517,558h1v1h-1zM515,559h1v1h-1zM518,559h1v1h-1zM521,559h1v1h-1zM519,560h1v1h-1zM522,560h1v1h-1zM513,561h1v1h-1zM516,561h1v1h-1zM520,561h1v1h-1zM515,562h1v1h-1zM514,563h1v1h-1zM517,563h2v1h-2zM521,563h1v1h-1zM520,564h1v1h-1zM513,565h1v1h-1zM516,565h1v1h-1zM519,565h1v1h-1zM522,565h1v1h-1zM514,566h1v1h-1zM517,566h1v1h-1zM515,567h1v1h-1zM518,567h1v1h-1zM521,567h1v1h-1zM519,568h1v1h-1zM522,568h1v1h-1zM513,569h1v1h-1zM516,569h1v1h-1zM520,569h1v1h-1zM515,570h1v1h-1zM514,571h1v1h-1zM517,571h2v1h-2zM521,571h1v1h-1zM520,572h1v1h-1zM513,573h1v1h-1zM516,573h1v1h-1zM519,573h1v1h-1zM522,573h1v1h-1zM514,574h1v1h-1zM517,574h1v1h-1zM515,575h1v1h-1zM518,575h1v1h-1zM521,575h1v1h-1zM519,576h1v1h-1zM522,576h1v1h-1zM513,577h1v1h-1zM516,577h1v1h-1zM520,577h1v1h-1z" fill="#f0f0f0" shape-rendering="crispEdges"/>
<path d="M514,437h1v1h-1zM517,437h1v1h-1zM520,437h1v1h-1zM515,438h1v1h-1zM519,438h1v1h-1zM521,438h1v1h-1zM513,439h1v1h-1zM516,439h1v1h-1zM519,439h1v1h-1zM522,439h1v1h-1zM514,440h1v1h-1zM516,440h1v1h-1zM520,440h1v1h-1zM514,441h1v1h-1zM517,441h2v1h-2zM521,441h1v1h-1zM513,442h1v1h-1zM516,442h1v1h-1zM519,442h1v1h-1zM521,442h1v1h-1zM515,443h1v1h-1zM519,443h1v1h-1zM522,443h1v1h-1zM514,444h1v1h-1zM516,444h1v1h-1zM518,444h1v1h-1zM521,444h1v1h-1zM514,445h1v1h-1zM517,445h1v1h-1zM520,445h1v1h-1zM515,446h1v1h-1zM519,446h1v1h-1zM521,446h1v1h-1zM513,447h1v1h-1zM516,447h1v1h-1zM519,447h1v1h-1zM522,447h1v1h-1zM514,448h1v1h-1zM516,448h1v1h-1zM520,448h1v1h-1zM514,449h1v1h-1zM517,449h2v1h-2zM521,449h1v1h-1zM513,450h1v1h-1zM516,450h1v1h-1zM519,450h1v1h-1zM521,450h1v1h-1zM515,451h1v1h-1zM519,451h1v1h-1zM522,451h1v1h-1zM514,452h1v1h-1zM516,452h1v1h-1zM518,452h1v1h-1zM521,452h1v1h-1zM514,453h1v1h-1zM517,453h1v1h-1zM520,453h1v1h-1zM515,454h1v1h-1zM519,454h1v1h-1zM521,454h1v1h-1zM513,455h1v1h-1zM516,455h1v1h-1zM519,455h1v1h-1zM522,455h1v1h-1zM514,456h1v1h-1zM516,456h1v1h-1zM520,456h1v1h-1zM514,457h1v1h-1zM517,457h2v1h-2zM521,457h1v1h-1zM513,458h1v1h-1zM516,458h1v1h-1zM519,458h1v1h-1zM521,458h1v1h-1zM515,459h1v1h-1zM519,459h1v1h-1zM522,459h1v1h-1zM514,460h1v1h-1zM516,460h1v1h-1zM518,460h1v1h-1zM521,460h1v1h-1zM514,461h1v1h-1zM517,461h1v1h-1zM520,461h1v1h-1zM515,462h1v1h-1zM519,462h1v1h-1zM521,462h1v1h-1zM513,463h1v1h-1zM516,463h1v1h-1zM519,463h1v1h-1zM522,463h1v1h-1zM514,464h1v1h-1zM516,464h1v1h-1zM520,464h1v1h-1zM514,465h1v1h-1zM517,465h2v1h-2zM521,465h1v1h-1zM513,466h1v1h-1zM516,466h1v1h-1zM519,466h1v1h-1zM521,466h1v1h-1zM515,467h1v1h-1zM519,467h1v1h-1zM522,467h1v1h-1zM514,468h1v1h-1zM516,468h1v1h-1zM518,468h1v1h-1zM521,468h1v1h-1zM514,469h1v1h-1zM517,469h1v1h-1zM520,469h1v1h-1zM515,470h1v1h-1zM519,470h1v1h-1zM521,470h1v1h-1zM513,471h1v1h-1zM516,471h1v1h-1zM519,471h1v1h-1zM522,471h1v1h-1zM514,472h1v1h-1zM516,472h1v1h-1zM520,472h1v1h-1zM514,473h1v1h-1zM517,473h2v1h-2zM521,473h1v1h-1zM513,474h1v1h-1zM516,474h1v1h-1zM519,474h1v1h-1zM521,474h1v1h-1zM515,475h1v1h-1zM519,475h1v1h-1zM522,475h1v1h-1zM514,476h1v1h-1zM516,476h1v1h-1zM518,476h1v1h-1zM521,476h1v1h-1zM514,477h1v1h-1zM517,477h1v1h-1zM520,477h1v1h-1zM515,478h1v1h-1zM519,478h1v1h-1zM521,478h1v1h-1zM513,479h1v1h-1zM516,479h1v1h-1zM519,479h1v1h-1zM522,479h1v1h-1zM514,480h1v1h-1zM516,480h1v1h-1zM520,480h1v1h-1zM514,481h1v1h-1zM517,481h2v1h-2zM521,481h1v1h-1zM513,482h1v1h-1zM516,482h1v1h-1zM519,482h1v1h-1zM521,482h1v1h-1zM515,483h1v1h-1zM519,483h1v1h-1zM522,483h1v1h-1zM514,484h1v1h-1zM516,484h1v1h-1zM518,484h1v1h-1zM521,484h1v1h-1zM514,485h1v1h-1zM517,485h1v1h-1zM520,485h1v1h-1zM515,486h1v1h-1zM519,486h1v1h-1zM521,486h1v1h-1zM513,487h1v1h-1zM516,487h1v1h-1zM519,487h1v1h-1zM522,487h1v1h-1zM514,488h1v1h-1zM516,488h1v1h-1zM520,488h1v1h-1zM514,489h1v1h-1zM517,489h2v1h-2zM521,489h1v1h-1zM513,490h1v1h-1zM516,490h1v1h-1zM519,490h1v1h-1zM521,490h1v1h-1zM515,491h1v1h-1zM519,491h1v1h-1zM522,491h1v1h-1zM514,492h1v1h-1zM516,492h1v1h-1zM518,492h1v1h-1zM521,492h1v1h-1zM514,493h1v1h-1zM517,493h1v1h-1zM520,493h1v1h-1zM515,494h1v1h-1zM519,494h1v1h-1zM521,494h1v1h-1zM513,495h1v1h-1zM516,495h1v1h-1zM519,495h1v1h-1zM522,495h1v1h-1zM514,496h1v1h-1zM516,496h1v1h-1zM520,496h1v1h-1zM514,497h1v1h-1zM517,497h2v1h-2zM521,497h1v1h-1zM513,498h1v1h-1zM516,498h1v1h-1zM519,498h1v1h-1zM521,498h1v1h-1zM515,499h1v1h-1zM519,499h1v1h-1zM522,499h1v1h-1zM514,500h1v1h-1zM516,500h1v1h-1zM518,500h1v1h-1zM521,500h1v1h-1zM514,501h1v1h-1zM517,501h1v1h-1zM520,501h1v1h-1zM515,502h1v1h-1zM519,502h1v1h-1zM521,502h1v1h-1zM513,503h1v1h-1zM516,503h1v1h-1zM519,503h1v1h-1zM522,503h1v1h-1zM514,504h1v1h-1zM516,504h1v1h-1zM520,504h1v1h-1zM514,505h1v1h-1zM517,505h2v1h-2zM521,505h1v1h-1zM513,506h1v1h-1zM516,506h1v1h-1zM519,506h1v1h-1zM521,506h1v1h-1zM515,507h1v1h-1zM519,507h1v1h-1zM522,507h1v1h-1zM514,508h1v1h-1zM516,508h1v1h-1zM518,508h1v1h-1zM521,508h1v1h-1zM514,509h1v1h-1zM517,509h1v1h-1zM520,509h1v1h-1zM515,510h1v1h-1zM519,510h1v1h-1zM521,510h1v1h-1zM513,511h1v1h-1zM516,511h1v1h-1zM519,511h1v1h-1zM522,511h1v1h-1zM514,512h1v1h-1zM516,512h1v1h-1zM520,512h1v1h-1zM514,513h1v1h-1zM517,513h2v1h-2zM521,513h1v1h-1zM513,514h1v1h-1zM516,514h1v1h-1zM519,514h1v1h-1zM521,514h1v1h-1zM515,515h1v1h-1zM519,515h1v1h-1zM522,515h1v1h-1zM514,516h1v1h-1zM516,516h1v1h-1zM518,516h1v1h-1zM521,516h1v1h-1zM514,517h1v1h-1zM517,517h1v1h-1zM520,517h1v1h-1zM515,518h1v1h-1zM519,518h1v1h-1zM521,518h1v1h-1zM513,519h1v1h-1zM516,519h1v1h-1zM519,519h1v1h-1zM522,519h1v1h-1zM514,520h1v1h-1zM516,520h1v1h-1zM520,520h1v1h-1zM514,521h1v1h-1zM517,521h2v1h-2zM521,521h1v1h-1zM513,522h1v1h-1zM516,522h1v1h-1zM519,522h1v1h-1zM521,522h1v1h-1zM515,523h1v1h-1zM519,523h1v1h-1zM522,523h1v1h-1zM514,524h1v1h-1zM516,524h1v1h-1zM518,524h1v1h-1zM521,524h1v1h-1zM514,525h1v1h-1zM517,525h1v1h-1zM520,525h1v1h-1zM515,526h1v1h-1zM519,526h1v1h-1zM521,526h1v1h-1zM513,527h1v1h-1zM516,527h1v1h-1zM519,527h1v1h-1zM522,527h1v1h-1zM514,528h1v1h-1zM516,528h1v1h-1zM520,528h1v1h-1zM514,529h1v1h-1zM517,529h2v1h-2zM521,529h1v1h-1zM513,530h1v1h-1zM516,530h1v1h-1zM519,530h1v1h-1zM521,530h1v1h-1zM515,531h1v1h-1zM519,531h1v1h-1zM522,531h1v1h-1zM514,532h1v1h-1zM516,532h1v1h-1zM518,532h1v1h-1zM521,532h1v1h-1zM514,533h1v1h-1zM517,533h1v1h-1zM520,533h1v1h-1zM515,534h1v1h-1zM519,534h1v1h-1zM521,534h1v1h-1zM513,535h1v1h-1zM516,535h1v1h-1zM519,535h1v1h-1zM522,535h1v1h-1zM514,536h1v1h-1zM516,536h1v1h-1zM520,536h1v1h-1zM514,537h1v1h-1zM517,537h2v1h-2zM521,537h1v1h-1zM513,538h1v1h-1zM516,538h1v1h-1zM519,538h1v1h-1zM521,538h1v1h-1zM515,539h1v1h-1zM519,539h1v1h-1zM522,539h1v1h-1zM514,540h1v1h-1zM516,540h1v1h-1zM518,540h1v1h-1zM521,540h1v1h-1zM514,541h1v1h-1zM517,541h1v1h-1zM520,541h1v1h-1zM515,542h1v1h-1zM519,542h1v1h-1zM521,542h1v1h-1zM513,543h1v1h-1zM516,543h1v1h-1zM519,543h1v1h-1zM522,543h1v1h-1zM514,544h1v1h-1zM516,544h1v1h-1zM520,544h1v1h-1zM514,545h1v1h-1zM517,545h2v1h-2zM521,545h1v1h-1zM513,546h1v1h-1zM516,546h1v1h-1zM519,546h1v1h-1zM521,546h1v1h-1zM515,547h1v1h-1zM519,547h1v1h-1zM522,547h1v1h-1zM514,548h1v1h-1zM516,548h1v1h-1zM518,548h1v1h-1zM521,548h1v1h-1zM514,549h1v1h-1zM517,549h1v1h-1zM520,549h1v1h-1zM515,550h1v1h-1zM519,550h1v1h-1zM521,550h1v1h-1zM513,551h1v1h-1zM516,551h1v1h-1zM519,551h1v1h-1zM522,551h1v1h-1zM514,552h1v1h-1zM516,552h1v1h-1zM520,552h1v1h-1zM514,553h1v1h-1zM517,553h2v1h-2zM521,553h1v1h-1zM513,554h1v1h-1zM516,554h1v1h-1zM519,554h1v1h-1zM521,554h1v1h-1zM515,555h1v1h-1zM519,555h1v1h-1zM522,555h1v1h-1zM514,556h1v1h-1zM516,556h1v1h-1zM518,556h1v1h-1zM521,556h1v1h-1zM514,557h1v1h-1zM517,557h1v1h-1zM520,557h1v1h-1zM515,558h1v1h-1zM519,558h1v1h-1zM521,558h1v1h-1zM513,559h1v1h-1zM516,559h1v1h-1zM519,559h1v1h-1zM522,559h1v1h-1zM514,560h1v1h-1zM516,560h1v1h-1zM520,560h1v1h-1zM514,561h1v1h-1zM517,561h2v1h-2zM521,561h1v1h-1zM513,562h1v1h-1zM516,562h1v1h-1zM519,562h1v1h-1zM521,562h1v1h-1zM515,563h1v1h-1zM519,563h1v1h-1zM522,563h1v1h-1zM514,564h1v1h-1zM516,564h1v1h-1zM518,564h1v1h-1zM521,564h1v1h-1zM514,565h1v1h-1zM517,565h1v1h-1zM520,565h1v1h-1zM515,566h1v1h-1zM519,566h1v1h-1zM521,566h1v1h-1zM513,567h1v1h-1zM516,567h1v1h-1zM519,567h1v1h-1zM522,567h1v1h-1zM514,568h1v1h-1zM516,568h1v1h-1zM520,568h1v1h-1zM514,569h1v1h-1zM517,569h2v1h-2zM521,569h1v1h-1zM513,570h1v1h-1zM516,570h1v1h-1zM519,570h1v1h-1zM521,570h1v1h-1zM515,571h1v1h-1zM519,571h1v1h-1zM522,571h1v1h-1zM514,572h1v1h-1zM516,572h1v1h-1zM518,572h1v1h-1zM521,572h1v1h-1zM514,573h1v1h-1zM517,573h1v1h-1zM520,573h1v1h-1zM515,574h1v1h-1zM519,574h1v1h-1zM521,574h1v1h-1zM513,575h1v1h-1zM516,575h1v1h-1zM519,575h1v1h-1zM522,575h1v1h-1zM514,576h1v1h-1zM516,576h1v1h-1zM520,576h1v1h-1zM514,577h1v1h-1zM517,577h2v1h-2zM521,577h1v1h-1z" fill="#4a4a4a" shape-rendering="crispEdges"/>
<line x1="512.60" y1="437.20" x2="512.60" y2="577.70" stroke="#222" stroke-width="1.0"/>
<line x1="523.50" y1="437.20" x2="523.50" y2="577.70" stroke="#222" stroke-width="1.0"/>
<rect x="529.80" y="437.20" width="11.00" height="140.50" fill="#a0a0a0"/>
<path d="M530,437h1v1h-1zM533,437h1v1h-1zM536,437h1v1h-1zM539,437h1v1h-1zM531,438h1v1h-1zM534,438h1v1h-1zM532,439h1v1h-1zM535,439h1v1h-1zM538,439h1v1h-1zM536,440h1v1h-1zM539,440h1v1h-1zM530,441h1v1h-1zM533,441h1v1h-1zM537,441h1v1h-1zM540,441h1v1h-1zM532,442h1v1h-1zM535,442h1v1h-1zM531,443h1v1h-1zM534,443h1v1h-1zM538,443h1v1h-1zM537,444h1v1h-1zM540,444h1v1h-1zM530,445h1v1h-1zM533,445h1v1h-1zM536,445h1v1h-1zM539,445h1v1h-1zM531,446h1v1h-1zM534,446h1v1h-1zM532,447h1v1h-1zM535,447h1v1h-1zM538,447h1v1h-1zM536,448h1v1h-1zM539,448h1v1h-1zM530,449h1v1h-1zM533,449h1v1h-1zM537,449h1v1h-1zM540,449h1v1h-1zM532,450h1v1h-1zM535,450h1v1h-1zM531,451h1v1h-1zM534,451h1v1h-1zM538,451h1v1h-1zM537,452h1v1h-1zM540,452h1v1h-1zM530,453h1v1h-1zM533,453h1v1h-1zM536,453h1v1h-1zM539,453h1v1h-1zM531,454h1v1h-1zM534,454h1v1h-1zM532,455h1v1h-1zM535,455h1v1h-1zM538,455h1v1h-1zM536,456h1v1h-1zM539,456h1v1h-1zM530,457h1v1h-1zM533,457h1v1h-1zM537,457h1v1h-1zM540,457h1v1h-1zM532,458h1v1h-1zM535,458h1v1h-1zM531,459h1v1h-1zM534,459h1v1h-1zM538,459h1v1h-1zM537,460h1v1h-1zM540,460h1v1h-1zM530,461h1v1h-1zM533,461h1v1h-1zM536,461h1v1h-1zM539,461h1v1h-1zM531,462h1v1h-1zM534,462h1v1h-1zM532,463h1v1h-1zM535,463h1v1h-1zM538,463h1v1h-1zM536,464h1v1h-1zM539,464h1v1h-1zM530,465h1v1h-1zM533,465h1v1h-1zM537,465h1v1h-1zM540,465h1v1h-1zM532,466h1v1h-1zM535,466h1v1h-1zM531,467h1v1h-1zM534,467h1v1h-1zM538,467h1v1h-1zM537,468h1v1h-1zM540,468h1v1h-1zM530,469h1v1h-1zM533,469h1v1h-1zM536,469h1v1h-1zM539,469h1v1h-1zM531,470h1v1h-1zM534,470h1v1h-1zM532,471h1v1h-1zM535,471h1v1h-1zM538,471h1v1h-1zM536,472h1v1h-1zM539,472h1v1h-1zM530,473h1v1h-1zM533,473h1v1h-1zM537,473h1v1h-1zM540,473h1v1h-1zM532,474h1v1h-1zM535,474h1v1h-1zM531,475h1v1h-1zM534,475h1v1h-1zM538,475h1v1h-1zM537,476h1v1h-1zM540,476h1v1h-1zM530,477h1v1h-1zM533,477h1v1h-1zM536,477h1v1h-1zM539,477h1v1h-1zM531,478h1v1h-1zM534,478h1v1h-1zM532,479h1v1h-1zM535,479h1v1h-1zM538,479h1v1h-1zM536,480h1v1h-1zM539,480h1v1h-1zM530,481h1v1h-1zM533,481h1v1h-1zM537,481h1v1h-1zM540,481h1v1h-1zM532,482h1v1h-1zM535,482h1v1h-1zM531,483h1v1h-1zM534,483h1v1h-1zM538,483h1v1h-1zM537,484h1v1h-1zM540,484h1v1h-1zM530,485h1v1h-1zM533,485h1v1h-1zM536,485h1v1h-1zM539,485h1v1h-1zM531,486h1v1h-1zM534,486h1v1h-1zM532,487h1v1h-1zM535,487h1v1h-1zM538,487h1v1h-1zM536,488h1v1h-1zM539,488h1v1h-1zM530,489h1v1h-1zM533,489h1v1h-1zM537,489h1v1h-1zM540,489h1v1h-1zM532,490h1v1h-1zM535,490h1v1h-1zM531,491h1v1h-1zM534,491h1v1h-1zM538,491h1v1h-1zM537,492h1v1h-1zM540,492h1v1h-1zM530,493h1v1h-1zM533,493h1v1h-1zM536,493h1v1h-1zM539,493h1v1h-1zM531,494h1v1h-1zM534,494h1v1h-1zM532,495h1v1h-1zM535,495h1v1h-1zM538,495h1v1h-1zM536,496h1v1h-1zM539,496h1v1h-1zM530,497h1v1h-1zM533,497h1v1h-1zM537,497h1v1h-1zM540,497h1v1h-1zM532,498h1v1h-1zM535,498h1v1h-1zM531,499h1v1h-1zM534,499h1v1h-1zM538,499h1v1h-1zM537,500h1v1h-1zM540,500h1v1h-1zM530,501h1v1h-1zM533,501h1v1h-1zM536,501h1v1h-1zM539,501h1v1h-1zM531,502h1v1h-1zM534,502h1v1h-1zM532,503h1v1h-1zM535,503h1v1h-1zM538,503h1v1h-1zM536,504h1v1h-1zM539,504h1v1h-1zM530,505h1v1h-1zM533,505h1v1h-1zM537,505h1v1h-1zM540,505h1v1h-1zM532,506h1v1h-1zM535,506h1v1h-1zM531,507h1v1h-1zM534,507h1v1h-1zM538,507h1v1h-1zM537,508h1v1h-1zM540,508h1v1h-1zM530,509h1v1h-1zM533,509h1v1h-1zM536,509h1v1h-1zM539,509h1v1h-1zM531,510h1v1h-1zM534,510h1v1h-1zM532,511h1v1h-1zM535,511h1v1h-1zM538,511h1v1h-1zM536,512h1v1h-1zM539,512h1v1h-1zM530,513h1v1h-1zM533,513h1v1h-1zM537,513h1v1h-1zM540,513h1v1h-1zM532,514h1v1h-1zM535,514h1v1h-1zM531,515h1v1h-1zM534,515h1v1h-1zM538,515h1v1h-1zM537,516h1v1h-1zM540,516h1v1h-1zM530,517h1v1h-1zM533,517h1v1h-1zM536,517h1v1h-1zM539,517h1v1h-1zM531,518h1v1h-1zM534,518h1v1h-1zM532,519h1v1h-1zM535,519h1v1h-1zM538,519h1v1h-1zM536,520h1v1h-1zM539,520h1v1h-1zM530,521h1v1h-1zM533,521h1v1h-1zM537,521h1v1h-1zM540,521h1v1h-1zM532,522h1v1h-1zM535,522h1v1h-1zM531,523h1v1h-1zM534,523h1v1h-1zM538,523h1v1h-1zM537,524h1v1h-1zM540,524h1v1h-1zM530,525h1v1h-1zM533,525h1v1h-1zM536,525h1v1h-1zM539,525h1v1h-1zM531,526h1v1h-1zM534,526h1v1h-1zM532,527h1v1h-1zM535,527h1v1h-1zM538,527h1v1h-1zM536,528h1v1h-1zM539,528h1v1h-1zM530,529h1v1h-1zM533,529h1v1h-1zM537,529h1v1h-1zM540,529h1v1h-1zM532,530h1v1h-1zM535,530h1v1h-1zM531,531h1v1h-1zM534,531h1v1h-1zM538,531h1v1h-1zM537,532h1v1h-1zM540,532h1v1h-1zM530,533h1v1h-1zM533,533h1v1h-1zM536,533h1v1h-1zM539,533h1v1h-1zM531,534h1v1h-1zM534,534h1v1h-1zM532,535h1v1h-1zM535,535h1v1h-1zM538,535h1v1h-1zM536,536h1v1h-1zM539,536h1v1h-1zM530,537h1v1h-1zM533,537h1v1h-1zM537,537h1v1h-1zM540,537h1v1h-1zM532,538h1v1h-1zM535,538h1v1h-1zM531,539h1v1h-1zM534,539h1v1h-1zM538,539h1v1h-1zM537,540h1v1h-1zM540,540h1v1h-1zM530,541h1v1h-1zM533,541h1v1h-1zM536,541h1v1h-1zM539,541h1v1h-1zM531,542h1v1h-1zM534,542h1v1h-1zM532,543h1v1h-1zM535,543h1v1h-1zM538,543h1v1h-1zM536,544h1v1h-1zM539,544h1v1h-1zM530,545h1v1h-1zM533,545h1v1h-1zM537,545h1v1h-1zM540,545h1v1h-1zM532,546h1v1h-1zM535,546h1v1h-1zM531,547h1v1h-1zM534,547h1v1h-1zM538,547h1v1h-1zM537,548h1v1h-1zM540,548h1v1h-1zM530,549h1v1h-1zM533,549h1v1h-1zM536,549h1v1h-1zM539,549h1v1h-1zM531,550h1v1h-1zM534,550h1v1h-1zM532,551h1v1h-1zM535,551h1v1h-1zM538,551h1v1h-1zM536,552h1v1h-1zM539,552h1v1h-1zM530,553h1v1h-1zM533,553h1v1h-1zM537,553h1v1h-1zM540,553h1v1h-1zM532,554h1v1h-1zM535,554h1v1h-1zM531,555h1v1h-1zM534,555h1v1h-1zM538,555h1v1h-1zM537,556h1v1h-1zM540,556h1v1h-1zM530,557h1v1h-1zM533,557h1v1h-1zM536,557h1v1h-1zM539,557h1v1h-1zM531,558h1v1h-1zM534,558h1v1h-1zM532,559h1v1h-1zM535,559h1v1h-1zM538,559h1v1h-1zM536,560h1v1h-1zM539,560h1v1h-1zM530,561h1v1h-1zM533,561h1v1h-1zM537,561h1v1h-1zM540,561h1v1h-1zM532,562h1v1h-1zM535,562h1v1h-1zM531,563h1v1h-1zM534,563h1v1h-1zM538,563h1v1h-1zM537,564h1v1h-1zM540,564h1v1h-1zM530,565h1v1h-1zM533,565h1v1h-1zM536,565h1v1h-1zM539,565h1v1h-1zM531,566h1v1h-1zM534,566h1v1h-1zM532,567h1v1h-1zM535,567h1v1h-1zM538,567h1v1h-1zM536,568h1v1h-1zM539,568h1v1h-1zM530,569h1v1h-1zM533,569h1v1h-1zM537,569h1v1h-1zM540,569h1v1h-1zM532,570h1v1h-1zM535,570h1v1h-1zM531,571h1v1h-1zM534,571h1v1h-1zM538,571h1v1h-1zM537,572h1v1h-1zM540,572h1v1h-1zM530,573h1v1h-1zM533,573h1v1h-1zM536,573h1v1h-1zM539,573h1v1h-1zM531,574h1v1h-1zM534,574h1v1h-1zM532,575h1v1h-1zM535,575h1v1h-1zM538,575h1v1h-1zM536,576h1v1h-1zM539,576h1v1h-1zM530,577h1v1h-1zM533,577h1v1h-1zM537,577h1v1h-1zM540,577h1v1h-1z" fill="#f0f0f0" shape-rendering="crispEdges"/>
<path d="M531,437h1v1h-1zM534,437h1v1h-1zM537,437h1v1h-1zM540,437h1v1h-1zM532,438h1v1h-1zM535,438h2v1h-2zM538,438h1v1h-1zM540,438h1v1h-1zM530,439h1v1h-1zM533,439h1v1h-1zM536,439h1v1h-1zM539,439h1v1h-1zM531,440h1v1h-1zM533,440h1v1h-1zM535,440h1v1h-1zM537,440h1v1h-1zM540,440h1v1h-1zM531,441h1v1h-1zM534,441h1v1h-1zM538,441h1v1h-1zM530,442h1v1h-1zM533,442h1v1h-1zM536,442h1v1h-1zM538,442h1v1h-1zM540,442h1v1h-1zM532,443h1v1h-1zM535,443h2v1h-2zM539,443h1v1h-1zM531,444h1v1h-1zM533,444h1v1h-1zM535,444h1v1h-1zM538,444h1v1h-1zM531,445h1v1h-1zM534,445h1v1h-1zM537,445h1v1h-1zM540,445h1v1h-1zM532,446h1v1h-1zM535,446h2v1h-2zM538,446h1v1h-1zM540,446h1v1h-1zM530,447h1v1h-1zM533,447h1v1h-1zM536,447h1v1h-1zM539,447h1v1h-1zM531,448h1v1h-1zM533,448h1v1h-1zM535,448h1v1h-1zM537,448h1v1h-1zM540,448h1v1h-1zM531,449h1v1h-1zM534,449h1v1h-1zM538,449h1v1h-1zM530,450h1v1h-1zM533,450h1v1h-1zM536,450h1v1h-1zM538,450h1v1h-1zM540,450h1v1h-1zM532,451h1v1h-1zM535,451h2v1h-2zM539,451h1v1h-1zM531,452h1v1h-1zM533,452h1v1h-1zM535,452h1v1h-1zM538,452h1v1h-1zM531,453h1v1h-1zM534,453h1v1h-1zM537,453h1v1h-1zM540,453h1v1h-1zM532,454h1v1h-1zM535,454h2v1h-2zM538,454h1v1h-1zM540,454h1v1h-1zM530,455h1v1h-1zM533,455h1v1h-1zM536,455h1v1h-1zM539,455h1v1h-1zM531,456h1v1h-1zM533,456h1v1h-1zM535,456h1v1h-1zM537,456h1v1h-1zM540,456h1v1h-1zM531,457h1v1h-1zM534,457h1v1h-1zM538,457h1v1h-1zM530,458h1v1h-1zM533,458h1v1h-1zM536,458h1v1h-1zM538,458h1v1h-1zM540,458h1v1h-1zM532,459h1v1h-1zM535,459h2v1h-2zM539,459h1v1h-1zM531,460h1v1h-1zM533,460h1v1h-1zM535,460h1v1h-1zM538,460h1v1h-1zM531,461h1v1h-1zM534,461h1v1h-1zM537,461h1v1h-1zM540,461h1v1h-1zM532,462h1v1h-1zM535,462h2v1h-2zM538,462h1v1h-1zM540,462h1v1h-1zM530,463h1v1h-1zM533,463h1v1h-1zM536,463h1v1h-1zM539,463h1v1h-1zM531,464h1v1h-1zM533,464h1v1h-1zM535,464h1v1h-1zM537,464h1v1h-1zM540,464h1v1h-1zM531,465h1v1h-1zM534,465h1v1h-1zM538,465h1v1h-1zM530,466h1v1h-1zM533,466h1v1h-1zM536,466h1v1h-1zM538,466h1v1h-1zM540,466h1v1h-1zM532,467h1v1h-1zM535,467h2v1h-2zM539,467h1v1h-1zM531,468h1v1h-1zM533,468h1v1h-1zM535,468h1v1h-1zM538,468h1v1h-1zM531,469h1v1h-1zM534,469h1v1h-1zM537,469h1v1h-1zM540,469h1v1h-1zM532,470h1v1h-1zM535,470h2v1h-2zM538,470h1v1h-1zM540,470h1v1h-1zM530,471h1v1h-1zM533,471h1v1h-1zM536,471h1v1h-1zM539,471h1v1h-1zM531,472h1v1h-1zM533,472h1v1h-1zM535,472h1v1h-1zM537,472h1v1h-1zM540,472h1v1h-1zM531,473h1v1h-1zM534,473h1v1h-1zM538,473h1v1h-1zM530,474h1v1h-1zM533,474h1v1h-1zM536,474h1v1h-1zM538,474h1v1h-1zM540,474h1v1h-1zM532,475h1v1h-1zM535,475h2v1h-2zM539,475h1v1h-1zM531,476h1v1h-1zM533,476h1v1h-1zM535,476h1v1h-1zM538,476h1v1h-1zM531,477h1v1h-1zM534,477h1v1h-1zM537,477h1v1h-1zM540,477h1v1h-1zM532,478h1v1h-1zM535,478h2v1h-2zM538,478h1v1h-1zM540,478h1v1h-1zM530,479h1v1h-1zM533,479h1v1h-1zM536,479h1v1h-1zM539,479h1v1h-1zM531,480h1v1h-1zM533,480h1v1h-1zM535,480h1v1h-1zM537,480h1v1h-1zM540,480h1v1h-1zM531,481h1v1h-1zM534,481h1v1h-1zM538,481h1v1h-1zM530,482h1v1h-1zM533,482h1v1h-1zM536,482h1v1h-1zM538,482h1v1h-1zM540,482h1v1h-1zM532,483h1v1h-1zM535,483h2v1h-2zM539,483h1v1h-1zM531,484h1v1h-1zM533,484h1v1h-1zM535,484h1v1h-1zM538,484h1v1h-1zM531,485h1v1h-1zM534,485h1v1h-1zM537,485h1v1h-1zM540,485h1v1h-1zM532,486h1v1h-1zM535,486h2v1h-2zM538,486h1v1h-1zM540,486h1v1h-1zM530,487h1v1h-1zM533,487h1v1h-1zM536,487h1v1h-1zM539,487h1v1h-1zM531,488h1v1h-1zM533,488h1v1h-1zM535,488h1v1h-1zM537,488h1v1h-1zM540,488h1v1h-1zM531,489h1v1h-1zM534,489h1v1h-1zM538,489h1v1h-1zM530,490h1v1h-1zM533,490h1v1h-1zM536,490h1v1h-1zM538,490h1v1h-1zM540,490h1v1h-1zM532,491h1v1h-1zM535,491h2v1h-2zM539,491h1v1h-1zM531,492h1v1h-1zM533,492h1v1h-1zM535,492h1v1h-1zM538,492h1v1h-1zM531,493h1v1h-1zM534,493h1v1h-1zM537,493h1v1h-1zM540,493h1v1h-1zM532,494h1v1h-1zM535,494h2v1h-2zM538,494h1v1h-1zM540,494h1v1h-1zM530,495h1v1h-1zM533,495h1v1h-1zM536,495h1v1h-1zM539,495h1v1h-1zM531,496h1v1h-1zM533,496h1v1h-1zM535,496h1v1h-1zM537,496h1v1h-1zM540,496h1v1h-1zM531,497h1v1h-1zM534,497h1v1h-1zM538,497h1v1h-1zM530,498h1v1h-1zM533,498h1v1h-1zM536,498h1v1h-1zM538,498h1v1h-1zM540,498h1v1h-1zM532,499h1v1h-1zM535,499h2v1h-2zM539,499h1v1h-1zM531,500h1v1h-1zM533,500h1v1h-1zM535,500h1v1h-1zM538,500h1v1h-1zM531,501h1v1h-1zM534,501h1v1h-1zM537,501h1v1h-1zM540,501h1v1h-1zM532,502h1v1h-1zM535,502h2v1h-2zM538,502h1v1h-1zM540,502h1v1h-1zM530,503h1v1h-1zM533,503h1v1h-1zM536,503h1v1h-1zM539,503h1v1h-1zM531,504h1v1h-1zM533,504h1v1h-1zM535,504h1v1h-1zM537,504h1v1h-1zM540,504h1v1h-1zM531,505h1v1h-1zM534,505h1v1h-1zM538,505h1v1h-1zM530,506h1v1h-1zM533,506h1v1h-1zM536,506h1v1h-1zM538,506h1v1h-1zM540,506h1v1h-1zM532,507h1v1h-1zM535,507h2v1h-2zM539,507h1v1h-1zM531,508h1v1h-1zM533,508h1v1h-1zM535,508h1v1h-1zM538,508h1v1h-1zM531,509h1v1h-1zM534,509h1v1h-1zM537,509h1v1h-1zM540,509h1v1h-1zM532,510h1v1h-1zM535,510h2v1h-2zM538,510h1v1h-1zM540,510h1v1h-1zM530,511h1v1h-1zM533,511h1v1h-1zM536,511h1v1h-1zM539,511h1v1h-1zM531,512h1v1h-1zM533,512h1v1h-1zM535,512h1v1h-1zM537,512h1v1h-1zM540,512h1v1h-1zM531,513h1v1h-1zM534,513h1v1h-1zM538,513h1v1h-1zM530,514h1v1h-1zM533,514h1v1h-1zM536,514h1v1h-1zM538,514h1v1h-1zM540,514h1v1h-1zM532,515h1v1h-1zM535,515h2v1h-2zM539,515h1v1h-1zM531,516h1v1h-1zM533,516h1v1h-1zM535,516h1v1h-1zM538,516h1v1h-1zM531,517h1v1h-1zM534,517h1v1h-1zM537,517h1v1h-1zM540,517h1v1h-1zM532,518h1v1h-1zM535,518h2v1h-2zM538,518h1v1h-1zM540,518h1v1h-1zM530,519h1v1h-1zM533,519h1v1h-1zM536,519h1v1h-1zM539,519h1v1h-1zM531,520h1v1h-1zM533,520h1v1h-1zM535,520h1v1h-1zM537,520h1v1h-1zM540,520h1v1h-1zM531,521h1v1h-1zM534,521h1v1h-1zM538,521h1v1h-1zM530,522h1v1h-1zM533,522h1v1h-1zM536,522h1v1h-1zM538,522h1v1h-1zM540,522h1v1h-1zM532,523h1v1h-1zM535,523h2v1h-2zM539,523h1v1h-1zM531,524h1v1h-1zM533,524h1v1h-1zM535,524h1v1h-1zM538,524h1v1h-1zM531,525h1v1h-1zM534,525h1v1h-1zM537,525h1v1h-1zM540,525h1v1h-1zM532,526h1v1h-1zM535,526h2v1h-2zM538,526h1v1h-1zM540,526h1v1h-1zM530,527h1v1h-1zM533,527h1v1h-1zM536,527h1v1h-1zM539,527h1v1h-1zM531,528h1v1h-1zM533,528h1v1h-1zM535,528h1v1h-1zM537,528h1v1h-1zM540,528h1v1h-1zM531,529h1v1h-1zM534,529h1v1h-1zM538,529h1v1h-1zM530,530h1v1h-1zM533,530h1v1h-1zM536,530h1v1h-1zM538,530h1v1h-1zM540,530h1v1h-1zM532,531h1v1h-1zM535,531h2v1h-2zM539,531h1v1h-1zM531,532h1v1h-1zM533,532h1v1h-1zM535,532h1v1h-1zM538,532h1v1h-1zM531,533h1v1h-1zM534,533h1v1h-1zM537,533h1v1h-1zM540,533h1v1h-1zM532,534h1v1h-1zM535,534h2v1h-2zM538,534h1v1h-1zM540,534h1v1h-1zM530,535h1v1h-1zM533,535h1v1h-1zM536,535h1v1h-1zM539,535h1v1h-1zM531,536h1v1h-1zM533,536h1v1h-1zM535,536h1v1h-1zM537,536h1v1h-1zM540,536h1v1h-1zM531,537h1v1h-1zM534,537h1v1h-1zM538,537h1v1h-1zM530,538h1v1h-1zM533,538h1v1h-1zM536,538h1v1h-1zM538,538h1v1h-1zM540,538h1v1h-1zM532,539h1v1h-1zM535,539h2v1h-2zM539,539h1v1h-1zM531,540h1v1h-1zM533,540h1v1h-1zM535,540h1v1h-1zM538,540h1v1h-1zM531,541h1v1h-1zM534,541h1v1h-1zM537,541h1v1h-1zM540,541h1v1h-1zM532,542h1v1h-1zM535,542h2v1h-2zM538,542h1v1h-1zM540,542h1v1h-1zM530,543h1v1h-1zM533,543h1v1h-1zM536,543h1v1h-1zM539,543h1v1h-1zM531,544h1v1h-1zM533,544h1v1h-1zM535,544h1v1h-1zM537,544h1v1h-1zM540,544h1v1h-1zM531,545h1v1h-1zM534,545h1v1h-1zM538,545h1v1h-1zM530,546h1v1h-1zM533,546h1v1h-1zM536,546h1v1h-1zM538,546h1v1h-1zM540,546h1v1h-1zM532,547h1v1h-1zM535,547h2v1h-2zM539,547h1v1h-1zM531,548h1v1h-1zM533,548h1v1h-1zM535,548h1v1h-1zM538,548h1v1h-1zM531,549h1v1h-1zM534,549h1v1h-1zM537,549h1v1h-1zM540,549h1v1h-1zM532,550h1v1h-1zM535,550h2v1h-2zM538,550h1v1h-1zM540,550h1v1h-1zM530,551h1v1h-1zM533,551h1v1h-1zM536,551h1v1h-1zM539,551h1v1h-1zM531,552h1v1h-1zM533,552h1v1h-1zM535,552h1v1h-1zM537,552h1v1h-1zM540,552h1v1h-1zM531,553h1v1h-1zM534,553h1v1h-1zM538,553h1v1h-1zM530,554h1v1h-1zM533,554h1v1h-1zM536,554h1v1h-1zM538,554h1v1h-1zM540,554h1v1h-1zM532,555h1v1h-1zM535,555h2v1h-2zM539,555h1v1h-1zM531,556h1v1h-1zM533,556h1v1h-1zM535,556h1v1h-1zM538,556h1v1h-1zM531,557h1v1h-1zM534,557h1v1h-1zM537,557h1v1h-1zM540,557h1v1h-1zM532,558h1v1h-1zM535,558h2v1h-2zM538,558h1v1h-1zM540,558h1v1h-1zM530,559h1v1h-1zM533,559h1v1h-1zM536,559h1v1h-1zM539,559h1v1h-1zM531,560h1v1h-1zM533,560h1v1h-1zM535,560h1v1h-1zM537,560h1v1h-1zM540,560h1v1h-1zM531,561h1v1h-1zM534,561h1v1h-1zM538,561h1v1h-1zM530,562h1v1h-1zM533,562h1v1h-1zM536,562h1v1h-1zM538,562h1v1h-1zM540,562h1v1h-1zM532,563h1v1h-1zM535,563h2v1h-2zM539,563h1v1h-1zM531,564h1v1h-1zM533,564h1v1h-1zM535,564h1v1h-1zM538,564h1v1h-1zM531,565h1v1h-1zM534,565h1v1h-1zM537,565h1v1h-1zM540,565h1v1h-1zM532,566h1v1h-1zM535,566h2v1h-2zM538,566h1v1h-1zM540,566h1v1h-1zM530,567h1v1h-1zM533,567h1v1h-1zM536,567h1v1h-1zM539,567h1v1h-1zM531,568h1v1h-1zM533,568h1v1h-1zM535,568h1v1h-1zM537,568h1v1h-1zM540,568h1v1h-1zM531,569h1v1h-1zM534,569h1v1h-1zM538,569h1v1h-1zM530,570h1v1h-1zM533,570h1v1h-1zM536,570h1v1h-1zM538,570h1v1h-1zM540,570h1v1h-1zM532,571h1v1h-1zM535,571h2v1h-2zM539,571h1v1h-1zM531,572h1v1h-1zM533,572h1v1h-1zM535,572h1v1h-1zM538,572h1v1h-1zM531,573h1v1h-1zM534,573h1v1h-1zM537,573h1v1h-1zM540,573h1v1h-1zM532,574h1v1h-1zM535,574h2v1h-2zM538,574h1v1h-1zM540,574h1v1h-1zM530,575h1v1h-1zM533,575h1v1h-1zM536,575h1v1h-1zM539,575h1v1h-1zM531,576h1v1h-1zM533,576h1v1h-1zM535,576h1v1h-1zM537,576h1v1h-1zM540,576h1v1h-1zM531,577h1v1h-1zM534,577h1v1h-1zM538,577h1v1h-1z" fill="#4a4a4a" shape-rendering="crispEdges"/>
<line x1="529.80" y1="437.20" x2="529.80" y2="577.70" stroke="#222" stroke-width="1.0"/>
<line x1="540.80" y1="437.20" x2="540.80" y2="577.70" stroke="#222" stroke-width="1.0"/>
<clipPath id="c5070563"><rect x="507" y="0" width="39.299999999999955" height="700"/></clipPath>
<path clip-path="url(#c5070563)" d="M507,563.6 L546.3,546.9 L546.3,536.6 L507,553.3000000000001 Z" fill="#fff"/>
<line x1="507.00" y1="563.60" x2="546.30" y2="546.90" stroke="#333" stroke-width="0.9"/>
<line x1="507.00" y1="553.30" x2="546.30" y2="536.60" stroke="#333" stroke-width="0.9"/>
<rect x="510.80" y="577.70" width="14.00" height="4.6" fill="#ffffff"/>
<path d="M510.80,582.30 L510.80,578.70 Q510.80,577.70 512.00,577.70 L523.60,577.70 Q524.80,577.70 524.80,578.70 L524.80,582.30 Z" stroke="#2a2a2a" stroke-width="1.0" fill="none"/>
<line x1="510.80" y1="579.30" x2="524.80" y2="579.30" stroke="#444" stroke-width="0.8"/>
<line x1="510.80" y1="582.10" x2="524.80" y2="582.10" stroke="#111" stroke-width="1.2"/>
<line x1="511.70" y1="582.30" x2="511.70" y2="593.90" stroke="#2a2a2a" stroke-width="1.0" fill="none"/>
<line x1="523.90" y1="582.30" x2="523.90" y2="593.90" stroke="#2a2a2a" stroke-width="1.0" fill="none"/>
<line x1="511.70" y1="591.10" x2="523.90" y2="591.10" stroke="#333" stroke-width="0.8"/>
<line x1="511.10" y1="593.80" x2="524.50" y2="593.80" stroke="#000" stroke-width="1.6"/>
<line x1="517.80" y1="583.20" x2="517.80" y2="587.70" stroke="#555" stroke-width="0.7"/>
<path d="M509.10,594.40 L525.00,594.40 Q525.80,594.40 525.80,595.20 L525.80,605.20 Q525.80,606.00 525.00,606.00 L509.10,606.00 Q508.30,606.00 508.30,605.20 L508.30,595.20 Q508.30,594.40 509.10,594.40 Z" stroke="#2a2a2a" stroke-width="1.0" fill="none"/>
<line x1="517.05" y1="594.40" x2="517.05" y2="606.00" stroke="#444" stroke-width="0.8"/>
<rect x="528.30" y="577.70" width="14.00" height="4.6" fill="#ffffff"/>
<path d="M528.30,582.30 L528.30,578.70 Q528.30,577.70 529.50,577.70 L541.10,577.70 Q542.30,577.70 542.30,578.70 L542.30,582.30 Z" stroke="#2a2a2a" stroke-width="1.0" fill="none"/>
<line x1="528.30" y1="579.30" x2="542.30" y2="579.30" stroke="#444" stroke-width="0.8"/>
<line x1="528.30" y1="582.10" x2="542.30" y2="582.10" stroke="#111" stroke-width="1.2"/>
<line x1="529.20" y1="582.30" x2="529.20" y2="593.90" stroke="#2a2a2a" stroke-width="1.0" fill="none"/>
<line x1="541.40" y1="582.30" x2="541.40" y2="593.90" stroke="#2a2a2a" stroke-width="1.0" fill="none"/>
<line x1="529.20" y1="591.10" x2="541.40" y2="591.10" stroke="#333" stroke-width="0.8"/>
<line x1="528.60" y1="593.80" x2="542.00" y2="593.80" stroke="#000" stroke-width="1.6"/>
<line x1="535.30" y1="583.20" x2="535.30" y2="587.70" stroke="#555" stroke-width="0.7"/>
<path d="M527.60,594.40 L543.50,594.40 Q544.30,594.40 544.30,595.20 L544.30,605.20 Q544.30,606.00 543.50,606.00 L527.60,606.00 Q526.80,606.00 526.80,605.20 L526.80,595.20 Q526.80,594.40 527.60,594.40 Z" stroke="#2a2a2a" stroke-width="1.0" fill="none"/>
<line x1="535.55" y1="594.40" x2="535.55" y2="606.00" stroke="#444" stroke-width="0.8"/>
<line x1="544.30" y1="606.00" x2="645.80" y2="606.00" stroke="#000" stroke-width="0.9" fill="none"/>
<line x1="643.00" y1="340.70" x2="643.00" y2="606.00" stroke="#000" stroke-width="0.9" fill="none"/>
<path d="M643.00,342.40 L644.80,350.20 Q643.00,351.20 641.20,350.20 Z" fill="#000"/>
<path d="M643.00,604.60 L641.20,596.80 Q643.00,595.80 644.80,596.80 Z" fill="#000"/>
<g transform="translate(639.10,485.80) rotate(-90) scale(1,1.04)"><text x="0.00" y="0" font-size="15.5">450</text></g>
<line x1="510.00" y1="606.50" x2="510.00" y2="622.00" stroke="#000" stroke-width="0.9" fill="none"/>
<line x1="525.00" y1="606.50" x2="525.00" y2="622.00" stroke="#000" stroke-width="0.9" fill="none"/>
<line x1="442.60" y1="620.00" x2="543.00" y2="620.00" stroke="#000" stroke-width="0.9" fill="none"/>
<path d="M508.60,620.00 L500.80,621.80 Q499.80,620.00 500.80,618.20 Z" fill="#000"/>
<path d="M526.40,620.00 L534.20,618.20 Q535.20,620.00 534.20,621.80 Z" fill="#000"/>
<g transform="translate(444.70,615.70) scale(1,1.04)"><text x="0.00" y="0" font-size="15.5">G 3/8&quot;</text></g>
<line x1="528.00" y1="606.50" x2="528.00" y2="640.00" stroke="#000" stroke-width="0.9" fill="none"/>
<line x1="543.00" y1="606.50" x2="543.00" y2="640.00" stroke="#000" stroke-width="0.9" fill="none"/>
<line x1="509.40" y1="638.00" x2="611.00" y2="638.00" stroke="#000" stroke-width="0.9" fill="none"/>
<path d="M526.60,638.00 L518.80,639.80 Q517.80,638.00 518.80,636.20 Z" fill="#000"/>
<path d="M544.40,638.00 L552.20,636.20 Q553.20,638.00 552.20,639.80 Z" fill="#000"/>
<g transform="translate(564.30,633.70) scale(1,1.04)"><text x="0.00" y="0" font-size="15.5">G 3/8&quot;</text></g>
</svg>
</body></html>
